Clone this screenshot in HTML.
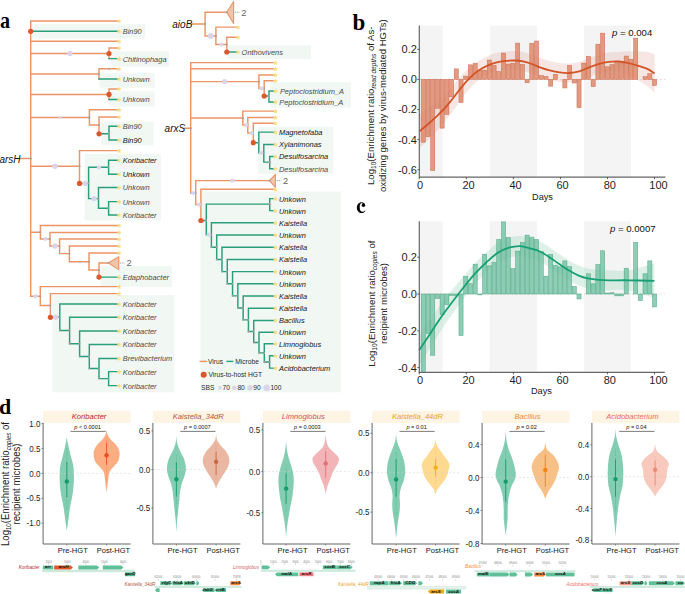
<!DOCTYPE html>
<html><head><meta charset="utf-8"><style>
html,body{margin:0;padding:0;background:#fff;}
body{width:685px;height:594px;overflow:hidden;}
svg{display:block;font-family:"Liberation Sans",sans-serif;}
.tl{font-size:8px;font-style:italic;}
.tn{font-size:10px;font-style:italic;fill:#111;}
.lg{font-size:7.2px;fill:#2a2a2a;}
.ax{font-size:11px;fill:#1e1e1e;}
.ax2{font-size:9.2px;fill:#1a1a1a;}
.pt{font-size:9.6px;fill:#111;}
.yl{font-size:9.6px;fill:#222;}
.sub{font-size:6.6px;}
.pl{font-family:"Liberation Serif",serif;font-weight:bold;font-size:23px;fill:#000;}
.vt{font-size:7.6px;font-style:italic;}
.pv{font-size:5.6px;fill:#111;}
.vy{font-size:8.7px;fill:#1c1c1c;}
.vx{font-size:8.1px;fill:#161616;}
.gn{font-size:4.4px;font-style:italic;font-weight:bold;}
.gt{font-size:2.9px;fill:#888;}
.gl{font-size:4.6px;font-style:italic;}
</style></head><body>
<svg width="685" height="594" viewBox="0 0 685 594">
<defs><path id="st" d="M0.00 -2.30L0.76 -0.80L2.43 -0.54L1.24 0.65L1.50 2.31L0.00 1.55L-1.50 2.31L-1.24 0.65L-2.43 -0.54L-0.76 -0.80Z" fill="#f9de84"/></defs>
<rect x="32" y="24.3" width="113.2" height="14.3" fill="#f1f8f4"/>
<rect x="111" y="51.2" width="58" height="15.4" fill="#f1f8f4"/>
<rect x="99.5" y="73.2" width="55.3" height="14.4" fill="#f1f8f4"/>
<rect x="109.2" y="91.4" width="45.6" height="15.1" fill="#f1f8f4"/>
<rect x="100.9" y="121.7" width="52.6" height="23.6" fill="#f1f8f4"/>
<rect x="84.5" y="154" width="76.5" height="66.4" fill="#f1f8f4"/>
<rect x="100.5" y="266.2" width="71.5" height="20.6" fill="#f1f8f4"/>
<rect x="52.2" y="295" width="122.1" height="97.3" fill="#f1f8f4"/>
<path d="M19.77 158.4H30.7M30.7 20.27V297.03M29.97 21H118.5M29.97 41.2H118.5M29.97 53.5H109M109 47.27V59.33M108.28 48H118.5M29.97 74H99M99 67.98V79.72M98.28 68.7H118.5M29.97 94.4H109M109 88.18V100.22M108.28 88.9H118.5M29.97 117.4H89.4M89.4 109.08V125.72M88.68 109.8H118.5M88.68 125H99M99 116.28V134.53M98.28 117H118.5M29.97 166.3H79.5M79.5 149.88V184.12M78.78 150.6H118.5M29.97 232.2H40.4M40.4 224.68V239.72M39.67 225.4H118.5M39.67 239H50M50 231.68V246.72M49.27 232.4H118.5M49.27 246H59.6M59.6 238.28V254.32M58.88 239H118.5M58.88 253.6H69.4M69.4 245.28V262.43M68.68 246H118.5M68.68 261.7H89M89 252.18V270.73M88.28 252.9H118.5M88.28 270H99M99 262.27V277.83M98.28 263H108.3M29.97 296.3H40.3M40.3 285.88V306.23M39.57 286.6H118.5M39.57 305.5H50.4M50.4 292.88V318.03M49.67 293.6H118.5" stroke="#ec9466" stroke-width="1.45" fill="none"/>
<path d="M29.97 31.3H118.5M108.28 58.6H118.5M98.28 79H118.5M108.28 99.5H118.5M98.28 133.8H109M109 125.58V140.72M108.28 126.3H118.5M108.28 140H118.5M78.78 183.4H88.6M88.6 166.58V199.32M87.88 167.3H108.6M108.6 159.47V175.03M107.88 160.2H118.5M107.88 174.3H118.5M87.88 198.6H98.5M98.5 186.78V208.92M97.78 187.5H118.5M97.78 208.2H108.6M108.6 200.88V215.72M107.88 201.6H118.5M107.88 215H118.5M98.28 277.1H118.5M49.67 317.3H59.8M59.8 303.27V331.22M59.07 304H118.5M59.07 330.49H69.6M69.6 316.57V344.41M68.88 317.3H118.5M68.88 343.69H79.6M79.6 330.17V357.2M78.88 330.9H118.5M78.88 356.48H89.3M89.3 343.67V369.28M88.58 344.4H118.5M88.58 368.55H99M99 357.77V379.33M98.28 358.5H118.5M98.28 378.6H108.6M108.6 370.88V386.33M107.88 371.6H118.5M107.88 385.6H118.5" stroke="#2a9d7a" stroke-width="1.45" fill="none"/>
<path d="M108.3 263L118.8 256.6L118.8 269.6Z" fill="#f3c4a8" stroke="#ec9466" stroke-width="1.1" stroke-linejoin="round"/>
<path d="M120 263H124.8" stroke="#8a8a8a" stroke-width="0.8" stroke-dasharray="1.3 0.9"/>
<text x="126.4" y="266.4" style="font-size:9.4px" fill="#666">2</text>
<circle cx="108.6" cy="378.6" r="0.9" fill="#a3a3a3"/>
<circle cx="99" cy="368.55" r="0.9" fill="#a3a3a3"/>
<circle cx="89.3" cy="356.48" r="0.9" fill="#a3a3a3"/>
<circle cx="79.6" cy="343.69" r="0.9" fill="#a3a3a3"/>
<circle cx="69.6" cy="330.49" r="0.9" fill="#a3a3a3"/>
<circle cx="59.8" cy="317.3" r="0.9" fill="#a3a3a3"/>
<circle cx="50.4" cy="305.5" r="0.9" fill="#a3a3a3"/>
<circle cx="40.3" cy="296.3" r="0.9" fill="#a3a3a3"/>
<circle cx="108.3" cy="263" r="0.9" fill="#a3a3a3"/>
<circle cx="99" cy="270" r="0.9" fill="#a3a3a3"/>
<circle cx="89" cy="261.7" r="0.9" fill="#a3a3a3"/>
<circle cx="69.4" cy="253.6" r="0.9" fill="#a3a3a3"/>
<circle cx="59.6" cy="246" r="0.9" fill="#a3a3a3"/>
<circle cx="50" cy="239" r="0.9" fill="#a3a3a3"/>
<circle cx="40.4" cy="232.2" r="0.9" fill="#a3a3a3"/>
<circle cx="108.6" cy="208.2" r="0.9" fill="#a3a3a3"/>
<circle cx="98.5" cy="198.6" r="0.9" fill="#a3a3a3"/>
<circle cx="108.6" cy="167.3" r="0.9" fill="#a3a3a3"/>
<circle cx="88.6" cy="183.4" r="0.9" fill="#a3a3a3"/>
<circle cx="79.5" cy="166.3" r="0.9" fill="#a3a3a3"/>
<circle cx="109" cy="133.8" r="0.9" fill="#a3a3a3"/>
<circle cx="99" cy="125" r="0.9" fill="#a3a3a3"/>
<circle cx="89.4" cy="117.4" r="0.9" fill="#a3a3a3"/>
<circle cx="109" cy="94.4" r="0.9" fill="#a3a3a3"/>
<circle cx="99" cy="74" r="0.9" fill="#a3a3a3"/>
<circle cx="109" cy="53.5" r="0.9" fill="#a3a3a3"/>
<circle cx="30.7" cy="158.4" r="0.9" fill="#a3a3a3"/>
<circle cx="30.7" cy="158.4" r="0.9" fill="#a3a3a3"/>
<circle cx="30.7" cy="31.3" r="2.6" fill="#d9582e"/>
<circle cx="70" cy="53.5" r="2.7" fill="#dcd5ea"/>
<circle cx="109" cy="53.5" r="2.6" fill="#d9582e"/>
<circle cx="99" cy="74" r="0.9" fill="#a3a3a3"/>
<circle cx="109" cy="68.7" r="0.9" fill="#a3a3a3"/>
<circle cx="109" cy="94.4" r="2.6" fill="#d9582e"/>
<circle cx="60" cy="117.4" r="1.6" fill="#dcd5ea"/>
<circle cx="89.4" cy="117.4" r="0.9" fill="#a3a3a3"/>
<circle cx="99" cy="125" r="0.9" fill="#a3a3a3"/>
<circle cx="99" cy="133.8" r="2.6" fill="#d9582e"/>
<circle cx="55" cy="166.3" r="2.7" fill="#dcd5ea"/>
<circle cx="79.5" cy="166.3" r="0.9" fill="#a3a3a3"/>
<circle cx="85" cy="183.4" r="2.7" fill="#dcd5ea"/>
<circle cx="99" cy="167.3" r="2.1" fill="#dcd5ea"/>
<circle cx="94" cy="198.6" r="2.7" fill="#dcd5ea"/>
<circle cx="79.5" cy="183.4" r="2.6" fill="#d9582e"/>
<circle cx="45.5" cy="239" r="2.1" fill="#dcd5ea"/>
<circle cx="40.4" cy="232.2" r="0.9" fill="#a3a3a3"/>
<circle cx="55" cy="246" r="2.7" fill="#dcd5ea"/>
<circle cx="69.4" cy="253.6" r="0.9" fill="#a3a3a3"/>
<circle cx="80" cy="261.7" r="0.9" fill="#a3a3a3"/>
<circle cx="89" cy="261.7" r="0.9" fill="#a3a3a3"/>
<circle cx="99" cy="270" r="0.9" fill="#a3a3a3"/>
<circle cx="99" cy="277.1" r="2.6" fill="#d9582e"/>
<circle cx="35.5" cy="296.3" r="2.1" fill="#dcd5ea"/>
<circle cx="40.3" cy="296.3" r="0.9" fill="#a3a3a3"/>
<circle cx="50.4" cy="305.5" r="0.9" fill="#a3a3a3"/>
<circle cx="55.6" cy="317.3" r="2.7" fill="#dcd5ea"/>
<circle cx="59.8" cy="330.49" r="0.9" fill="#a3a3a3"/>
<circle cx="69.6" cy="343.69" r="0.9" fill="#a3a3a3"/>
<circle cx="79.6" cy="356.48" r="0.9" fill="#a3a3a3"/>
<circle cx="89.3" cy="368.55" r="0.9" fill="#a3a3a3"/>
<circle cx="99" cy="378.6" r="0.9" fill="#a3a3a3"/>
<circle cx="50.4" cy="317.3" r="2.6" fill="#d9582e"/>
<path transform="translate(119.1 21)" d="M0 -2.3L0.76 -0.8L2.43 -0.54L1.24 0.65L1.5 2.31L0 1.55L-1.5 2.31L-1.24 0.65L-2.43 -0.54L-0.76 -0.8Z" fill="#f9de84"/>
<path transform="translate(119.1 31.3)" d="M0 -2.3L0.76 -0.8L2.43 -0.54L1.24 0.65L1.5 2.31L0 1.55L-1.5 2.31L-1.24 0.65L-2.43 -0.54L-0.76 -0.8Z" fill="#f9de84"/>
<path transform="translate(119.1 41.2)" d="M0 -2.3L0.76 -0.8L2.43 -0.54L1.24 0.65L1.5 2.31L0 1.55L-1.5 2.31L-1.24 0.65L-2.43 -0.54L-0.76 -0.8Z" fill="#f9de84"/>
<path transform="translate(119.1 48)" d="M0 -2.3L0.76 -0.8L2.43 -0.54L1.24 0.65L1.5 2.31L0 1.55L-1.5 2.31L-1.24 0.65L-2.43 -0.54L-0.76 -0.8Z" fill="#f9de84"/>
<path transform="translate(119.1 58.6)" d="M0 -2.3L0.76 -0.8L2.43 -0.54L1.24 0.65L1.5 2.31L0 1.55L-1.5 2.31L-1.24 0.65L-2.43 -0.54L-0.76 -0.8Z" fill="#f9de84"/>
<path transform="translate(119.1 68.7)" d="M0 -2.3L0.76 -0.8L2.43 -0.54L1.24 0.65L1.5 2.31L0 1.55L-1.5 2.31L-1.24 0.65L-2.43 -0.54L-0.76 -0.8Z" fill="#f9de84"/>
<path transform="translate(119.1 79)" d="M0 -2.3L0.76 -0.8L2.43 -0.54L1.24 0.65L1.5 2.31L0 1.55L-1.5 2.31L-1.24 0.65L-2.43 -0.54L-0.76 -0.8Z" fill="#f9de84"/>
<path transform="translate(119.1 88.9)" d="M0 -2.3L0.76 -0.8L2.43 -0.54L1.24 0.65L1.5 2.31L0 1.55L-1.5 2.31L-1.24 0.65L-2.43 -0.54L-0.76 -0.8Z" fill="#f9de84"/>
<path transform="translate(119.1 99.5)" d="M0 -2.3L0.76 -0.8L2.43 -0.54L1.24 0.65L1.5 2.31L0 1.55L-1.5 2.31L-1.24 0.65L-2.43 -0.54L-0.76 -0.8Z" fill="#f9de84"/>
<path transform="translate(119.1 109.8)" d="M0 -2.3L0.76 -0.8L2.43 -0.54L1.24 0.65L1.5 2.31L0 1.55L-1.5 2.31L-1.24 0.65L-2.43 -0.54L-0.76 -0.8Z" fill="#f9de84"/>
<path transform="translate(119.1 117)" d="M0 -2.3L0.76 -0.8L2.43 -0.54L1.24 0.65L1.5 2.31L0 1.55L-1.5 2.31L-1.24 0.65L-2.43 -0.54L-0.76 -0.8Z" fill="#f9de84"/>
<path transform="translate(119.1 126.3)" d="M0 -2.3L0.76 -0.8L2.43 -0.54L1.24 0.65L1.5 2.31L0 1.55L-1.5 2.31L-1.24 0.65L-2.43 -0.54L-0.76 -0.8Z" fill="#f9de84"/>
<path transform="translate(119.1 140)" d="M0 -2.3L0.76 -0.8L2.43 -0.54L1.24 0.65L1.5 2.31L0 1.55L-1.5 2.31L-1.24 0.65L-2.43 -0.54L-0.76 -0.8Z" fill="#f9de84"/>
<path transform="translate(119.1 150.6)" d="M0 -2.3L0.76 -0.8L2.43 -0.54L1.24 0.65L1.5 2.31L0 1.55L-1.5 2.31L-1.24 0.65L-2.43 -0.54L-0.76 -0.8Z" fill="#f9de84"/>
<path transform="translate(119.1 160.2)" d="M0 -2.3L0.76 -0.8L2.43 -0.54L1.24 0.65L1.5 2.31L0 1.55L-1.5 2.31L-1.24 0.65L-2.43 -0.54L-0.76 -0.8Z" fill="#f9de84"/>
<path transform="translate(119.1 174.3)" d="M0 -2.3L0.76 -0.8L2.43 -0.54L1.24 0.65L1.5 2.31L0 1.55L-1.5 2.31L-1.24 0.65L-2.43 -0.54L-0.76 -0.8Z" fill="#f9de84"/>
<path transform="translate(119.1 187.5)" d="M0 -2.3L0.76 -0.8L2.43 -0.54L1.24 0.65L1.5 2.31L0 1.55L-1.5 2.31L-1.24 0.65L-2.43 -0.54L-0.76 -0.8Z" fill="#f9de84"/>
<path transform="translate(119.1 201.6)" d="M0 -2.3L0.76 -0.8L2.43 -0.54L1.24 0.65L1.5 2.31L0 1.55L-1.5 2.31L-1.24 0.65L-2.43 -0.54L-0.76 -0.8Z" fill="#f9de84"/>
<path transform="translate(119.1 215)" d="M0 -2.3L0.76 -0.8L2.43 -0.54L1.24 0.65L1.5 2.31L0 1.55L-1.5 2.31L-1.24 0.65L-2.43 -0.54L-0.76 -0.8Z" fill="#f9de84"/>
<path transform="translate(119.1 225.4)" d="M0 -2.3L0.76 -0.8L2.43 -0.54L1.24 0.65L1.5 2.31L0 1.55L-1.5 2.31L-1.24 0.65L-2.43 -0.54L-0.76 -0.8Z" fill="#f9de84"/>
<path transform="translate(119.1 232.4)" d="M0 -2.3L0.76 -0.8L2.43 -0.54L1.24 0.65L1.5 2.31L0 1.55L-1.5 2.31L-1.24 0.65L-2.43 -0.54L-0.76 -0.8Z" fill="#f9de84"/>
<path transform="translate(119.1 239)" d="M0 -2.3L0.76 -0.8L2.43 -0.54L1.24 0.65L1.5 2.31L0 1.55L-1.5 2.31L-1.24 0.65L-2.43 -0.54L-0.76 -0.8Z" fill="#f9de84"/>
<path transform="translate(119.1 246)" d="M0 -2.3L0.76 -0.8L2.43 -0.54L1.24 0.65L1.5 2.31L0 1.55L-1.5 2.31L-1.24 0.65L-2.43 -0.54L-0.76 -0.8Z" fill="#f9de84"/>
<path transform="translate(119.1 252.9)" d="M0 -2.3L0.76 -0.8L2.43 -0.54L1.24 0.65L1.5 2.31L0 1.55L-1.5 2.31L-1.24 0.65L-2.43 -0.54L-0.76 -0.8Z" fill="#f9de84"/>
<path transform="translate(119.1 277.1)" d="M0 -2.3L0.76 -0.8L2.43 -0.54L1.24 0.65L1.5 2.31L0 1.55L-1.5 2.31L-1.24 0.65L-2.43 -0.54L-0.76 -0.8Z" fill="#f9de84"/>
<path transform="translate(119.1 286.6)" d="M0 -2.3L0.76 -0.8L2.43 -0.54L1.24 0.65L1.5 2.31L0 1.55L-1.5 2.31L-1.24 0.65L-2.43 -0.54L-0.76 -0.8Z" fill="#f9de84"/>
<path transform="translate(119.1 293.6)" d="M0 -2.3L0.76 -0.8L2.43 -0.54L1.24 0.65L1.5 2.31L0 1.55L-1.5 2.31L-1.24 0.65L-2.43 -0.54L-0.76 -0.8Z" fill="#f9de84"/>
<path transform="translate(119.1 304)" d="M0 -2.3L0.76 -0.8L2.43 -0.54L1.24 0.65L1.5 2.31L0 1.55L-1.5 2.31L-1.24 0.65L-2.43 -0.54L-0.76 -0.8Z" fill="#f9de84"/>
<path transform="translate(119.1 317.3)" d="M0 -2.3L0.76 -0.8L2.43 -0.54L1.24 0.65L1.5 2.31L0 1.55L-1.5 2.31L-1.24 0.65L-2.43 -0.54L-0.76 -0.8Z" fill="#f9de84"/>
<path transform="translate(119.1 330.9)" d="M0 -2.3L0.76 -0.8L2.43 -0.54L1.24 0.65L1.5 2.31L0 1.55L-1.5 2.31L-1.24 0.65L-2.43 -0.54L-0.76 -0.8Z" fill="#f9de84"/>
<path transform="translate(119.1 344.4)" d="M0 -2.3L0.76 -0.8L2.43 -0.54L1.24 0.65L1.5 2.31L0 1.55L-1.5 2.31L-1.24 0.65L-2.43 -0.54L-0.76 -0.8Z" fill="#f9de84"/>
<path transform="translate(119.1 358.5)" d="M0 -2.3L0.76 -0.8L2.43 -0.54L1.24 0.65L1.5 2.31L0 1.55L-1.5 2.31L-1.24 0.65L-2.43 -0.54L-0.76 -0.8Z" fill="#f9de84"/>
<path transform="translate(119.1 371.6)" d="M0 -2.3L0.76 -0.8L2.43 -0.54L1.24 0.65L1.5 2.31L0 1.55L-1.5 2.31L-1.24 0.65L-2.43 -0.54L-0.76 -0.8Z" fill="#f9de84"/>
<path transform="translate(119.1 385.6)" d="M0 -2.3L0.76 -0.8L2.43 -0.54L1.24 0.65L1.5 2.31L0 1.55L-1.5 2.31L-1.24 0.65L-2.43 -0.54L-0.76 -0.8Z" fill="#f9de84"/>
<text transform="translate(122.7 34.2) scale(0.93 1)" class="tl" fill="#484848">Bin90</text>
<text transform="translate(122.7 61.5) scale(0.93 1)" class="tl" fill="#484848">Chitinophaga</text>
<text transform="translate(122.7 81.9) scale(0.93 1)" class="tl" fill="#484848">Unkown</text>
<text transform="translate(122.7 102.4) scale(0.93 1)" class="tl" fill="#484848">Unkown</text>
<text transform="translate(122.7 129.2) scale(0.93 1)" class="tl" fill="#484848">Bin90</text>
<text transform="translate(122.7 142.9) scale(0.93 1)" class="tl" fill="#141414">Bin90</text>
<text transform="translate(122.7 163.1) scale(0.93 1)" class="tl" fill="#141414">Koribacter</text>
<text transform="translate(122.7 177.2) scale(0.93 1)" class="tl" fill="#141414">Unkown</text>
<text transform="translate(122.7 190.4) scale(0.93 1)" class="tl" fill="#484848">Unkown</text>
<text transform="translate(122.7 204.5) scale(0.93 1)" class="tl" fill="#484848">Unkown</text>
<text transform="translate(122.7 217.9) scale(0.93 1)" class="tl" fill="#484848">Koribacter</text>
<text transform="translate(122.7 280) scale(0.93 1)" class="tl" fill="#484848">Edaphobacter</text>
<text transform="translate(122.7 306.9) scale(0.93 1)" class="tl" fill="#484848">Koribacter</text>
<text transform="translate(122.7 320.2) scale(0.93 1)" class="tl" fill="#484848">Koribacter</text>
<text transform="translate(122.7 333.8) scale(0.93 1)" class="tl" fill="#484848">Koribacter</text>
<text transform="translate(122.7 347.3) scale(0.93 1)" class="tl" fill="#484848">Koribacter</text>
<text transform="translate(122.7 361.4) scale(0.93 1)" class="tl" fill="#484848">Brevibacterium</text>
<text transform="translate(122.7 374.5) scale(0.93 1)" class="tl" fill="#484848">Koribacter</text>
<text transform="translate(122.7 388.5) scale(0.93 1)" class="tl" fill="#484848">Koribacter</text>
<text x="-0.6" y="162.5" class="tn">arsH</text>
<rect x="227.1" y="45.2" width="83.9" height="13.9" fill="#f1f8f4"/>
<path d="M191.08 24H205.1M205.1 11.58V36.62M204.38 12.3H226.8M204.38 35.9H215.9M215.9 26.38V45.12M215.18 27.1H237.4M215.18 44.4H226.8M226.8 36.48V52.73M226.08 37.2H237.4" stroke="#ec9466" stroke-width="1.45" fill="none"/>
<path d="M226.08 52H237.4" stroke="#2a9d7a" stroke-width="1.45" fill="none"/>
<path d="M226.8 12.3L233.6 1.5L233.6 23.4Z" fill="#f3c4a8" stroke="#ec9466" stroke-width="1.1" stroke-linejoin="round"/>
<path d="M234.8 12.3H239.6" stroke="#8a8a8a" stroke-width="0.8" stroke-dasharray="1.3 0.9"/>
<text x="241.2" y="15.7" style="font-size:9.4px" fill="#666">2</text>
<circle cx="226.8" cy="44.4" r="0.9" fill="#a3a3a3"/>
<circle cx="215.9" cy="35.9" r="0.9" fill="#a3a3a3"/>
<circle cx="226.8" cy="12.3" r="0.9" fill="#a3a3a3"/>
<circle cx="205.1" cy="24" r="0.9" fill="#a3a3a3"/>
<circle cx="205.1" cy="24" r="0.9" fill="#a3a3a3"/>
<circle cx="226.8" cy="12.3" r="0.9" fill="#a3a3a3"/>
<circle cx="210.7" cy="35.9" r="2.9" fill="#dcd5ea"/>
<circle cx="215.9" cy="35.9" r="0.9" fill="#a3a3a3"/>
<circle cx="221.3" cy="44.4" r="2" fill="#dcd5ea"/>
<circle cx="226.8" cy="44.4" r="0.9" fill="#a3a3a3"/>
<circle cx="226.8" cy="52" r="2.6" fill="#d9582e"/>
<path transform="translate(238 27.1)" d="M0 -2.3L0.76 -0.8L2.43 -0.54L1.24 0.65L1.5 2.31L0 1.55L-1.5 2.31L-1.24 0.65L-2.43 -0.54L-0.76 -0.8Z" fill="#f9de84"/>
<path transform="translate(238 37.2)" d="M0 -2.3L0.76 -0.8L2.43 -0.54L1.24 0.65L1.5 2.31L0 1.55L-1.5 2.31L-1.24 0.65L-2.43 -0.54L-0.76 -0.8Z" fill="#f9de84"/>
<path transform="translate(238 52)" d="M0 -2.3L0.76 -0.8L2.43 -0.54L1.24 0.65L1.5 2.31L0 1.55L-1.5 2.31L-1.24 0.65L-2.43 -0.54L-0.76 -0.8Z" fill="#f9de84"/>
<text transform="translate(241.6 54.9) scale(0.93 1)" class="tl" fill="#484848">Onthovivens</text>
<text x="172.3" y="27.6" class="tn">aioB</text>
<rect x="270.4" y="82.2" width="80.5" height="25.4" fill="#f1f8f4"/>
<rect x="258" y="126.7" width="75.3" height="47.2" fill="#f1f8f4"/>
<rect x="200.4" y="191.6" width="140.6" height="200.7" fill="#f1f8f4"/>
<path d="M183.58 128.3H190.7M190.7 61.88V193.72M189.97 62.6H274.8M189.97 68.7H274.8M189.97 81.6H258.9M258.9 74.28V89.12M258.17 75H274.8M258.17 88.4H264.2M264.2 80.08V96.72M263.47 80.8H274.8M189.97 117.9H242.8M242.8 110.38V125.72M242.08 111.1H274.8M242.08 125H247.8M247.8 116.68V133.72M247.08 117.4H274.8M247.08 133H253.3M253.3 122.48V143.42M252.58 123.2H274.8M189.97 193H195.7M195.7 179.88V205.32M194.97 180.6H269.5M194.97 204.6H200.9M200.9 188.47V221.22M200.18 189.2H274.8" stroke="#ec9466" stroke-width="1.45" fill="none"/>
<path d="M263.47 96H269M269 90.18V102.62M268.27 90.9H274.8M268.27 101.9H274.8M252.58 142.7H258.8M258.8 131.38V153.53M258.07 132.1H274.8M258.07 152.8H263.8M263.8 143.68V162.82M263.07 144.4H274.8M263.07 162.1H269.7M269.7 155.78V169.53M268.97 156.5H274.8M268.97 168.8H274.8M200.18 220.5H206.3M206.3 203.38V235.53M205.58 204.1H269.7M269.7 197.88V211.32M268.97 198.6H274.8M268.97 210.6H274.8M205.58 234.8H211.4M211.4 221.97V247.9M210.68 222.7H274.8M210.68 247.18H216.69M216.69 234.18V260.18M215.97 234.9H274.8M215.97 259.46H221.98M221.98 246.58V272.34M221.26 247.3H274.8M221.26 271.62H227.27M227.27 258.77V284.46M226.55 259.5H274.8M226.55 283.73H232.56M232.56 270.88V296.59M231.84 271.6H274.8M231.84 295.86H237.85M237.85 283.07V308.65M237.12 283.8H274.8M237.12 307.92H243.14M243.14 295.27V320.57M242.42 296H274.8M242.42 319.85H248.43M248.43 307.47V332.22M247.71 308.2H274.8M247.71 331.49H253.72M253.72 319.67V343.31M253 320.4H274.8M253 342.59H259.01M259.01 331.57V353.6M258.28 332.3H274.8M258.28 352.88H264.3M264.3 343.07V362.68M263.57 343.8H274.8M263.57 361.95H269.59M269.59 355.07V368.83M268.87 355.8H274.8M268.87 368.1H274.8" stroke="#2a9d7a" stroke-width="1.45" fill="none"/>
<path d="M269.5 180.6L275.4 174.3L275.4 187.3Z" fill="#f3c4a8" stroke="#ec9466" stroke-width="1.1" stroke-linejoin="round"/>
<path d="M276.6 180.6H281.4" stroke="#8a8a8a" stroke-width="0.8" stroke-dasharray="1.3 0.9"/>
<text x="283" y="184" style="font-size:9.4px" fill="#666">2</text>
<circle cx="269.59" cy="361.95" r="0.9" fill="#a3a3a3"/>
<circle cx="264.3" cy="352.88" r="0.9" fill="#a3a3a3"/>
<circle cx="259.01" cy="342.59" r="0.9" fill="#a3a3a3"/>
<circle cx="253.72" cy="331.49" r="0.9" fill="#a3a3a3"/>
<circle cx="248.43" cy="319.85" r="0.9" fill="#a3a3a3"/>
<circle cx="243.14" cy="307.92" r="0.9" fill="#a3a3a3"/>
<circle cx="237.85" cy="295.86" r="0.9" fill="#a3a3a3"/>
<circle cx="232.56" cy="283.73" r="0.9" fill="#a3a3a3"/>
<circle cx="227.27" cy="271.62" r="0.9" fill="#a3a3a3"/>
<circle cx="221.98" cy="259.46" r="0.9" fill="#a3a3a3"/>
<circle cx="216.69" cy="247.18" r="0.9" fill="#a3a3a3"/>
<circle cx="211.4" cy="234.8" r="0.9" fill="#a3a3a3"/>
<circle cx="269.7" cy="204.1" r="0.9" fill="#a3a3a3"/>
<circle cx="206.3" cy="220.5" r="0.9" fill="#a3a3a3"/>
<circle cx="200.9" cy="204.6" r="0.9" fill="#a3a3a3"/>
<circle cx="269.5" cy="180.6" r="0.9" fill="#a3a3a3"/>
<circle cx="195.7" cy="193" r="0.9" fill="#a3a3a3"/>
<circle cx="269.7" cy="162.1" r="0.9" fill="#a3a3a3"/>
<circle cx="263.8" cy="152.8" r="0.9" fill="#a3a3a3"/>
<circle cx="258.8" cy="142.7" r="0.9" fill="#a3a3a3"/>
<circle cx="253.3" cy="133" r="0.9" fill="#a3a3a3"/>
<circle cx="247.8" cy="125" r="0.9" fill="#a3a3a3"/>
<circle cx="242.8" cy="117.9" r="0.9" fill="#a3a3a3"/>
<circle cx="269" cy="96" r="0.9" fill="#a3a3a3"/>
<circle cx="264.2" cy="88.4" r="0.9" fill="#a3a3a3"/>
<circle cx="258.9" cy="81.6" r="0.9" fill="#a3a3a3"/>
<circle cx="190.7" cy="128.3" r="0.9" fill="#a3a3a3"/>
<circle cx="190.7" cy="128.3" r="0.9" fill="#a3a3a3"/>
<circle cx="224.6" cy="81.6" r="2.7" fill="#dcd5ea"/>
<circle cx="258.9" cy="81.6" r="0.9" fill="#a3a3a3"/>
<circle cx="261.5" cy="88.4" r="2.1" fill="#dcd5ea"/>
<circle cx="264.2" cy="96" r="2.6" fill="#d9582e"/>
<circle cx="269" cy="96" r="0.9" fill="#a3a3a3"/>
<circle cx="242.8" cy="117.9" r="0.9" fill="#a3a3a3"/>
<circle cx="246.3" cy="125" r="2.1" fill="#dcd5ea"/>
<circle cx="251.6" cy="133" r="2.1" fill="#dcd5ea"/>
<circle cx="261" cy="152.8" r="2.1" fill="#dcd5ea"/>
<circle cx="269.7" cy="162.1" r="0.9" fill="#a3a3a3"/>
<circle cx="253.3" cy="142.7" r="2.6" fill="#d9582e"/>
<circle cx="193.2" cy="193" r="2.1" fill="#dcd5ea"/>
<circle cx="232.5" cy="180.6" r="2.2" fill="#dcd5ea"/>
<circle cx="269.5" cy="180.6" r="0.9" fill="#a3a3a3"/>
<circle cx="199" cy="204.6" r="2.1" fill="#dcd5ea"/>
<circle cx="269.7" cy="204.1" r="0.9" fill="#a3a3a3"/>
<circle cx="208.7" cy="234.8" r="2.2" fill="#dcd5ea"/>
<circle cx="211.4" cy="247.18" r="0.9" fill="#a3a3a3"/>
<circle cx="216.69" cy="259.46" r="0.9" fill="#a3a3a3"/>
<circle cx="221.98" cy="271.62" r="0.9" fill="#a3a3a3"/>
<circle cx="227.27" cy="283.73" r="0.9" fill="#a3a3a3"/>
<circle cx="232.56" cy="295.86" r="0.9" fill="#a3a3a3"/>
<circle cx="237.85" cy="307.92" r="0.9" fill="#a3a3a3"/>
<circle cx="243.14" cy="319.85" r="0.9" fill="#a3a3a3"/>
<circle cx="248.43" cy="331.49" r="0.9" fill="#a3a3a3"/>
<circle cx="253.72" cy="342.59" r="0.9" fill="#a3a3a3"/>
<circle cx="259.01" cy="352.88" r="0.9" fill="#a3a3a3"/>
<circle cx="264.3" cy="361.95" r="0.9" fill="#a3a3a3"/>
<circle cx="200.9" cy="220.5" r="2.6" fill="#d9582e"/>
<circle cx="206.3" cy="220.5" r="0.9" fill="#a3a3a3"/>
<path transform="translate(275.4 62.6)" d="M0 -2.3L0.76 -0.8L2.43 -0.54L1.24 0.65L1.5 2.31L0 1.55L-1.5 2.31L-1.24 0.65L-2.43 -0.54L-0.76 -0.8Z" fill="#f9de84"/>
<path transform="translate(275.4 68.7)" d="M0 -2.3L0.76 -0.8L2.43 -0.54L1.24 0.65L1.5 2.31L0 1.55L-1.5 2.31L-1.24 0.65L-2.43 -0.54L-0.76 -0.8Z" fill="#f9de84"/>
<path transform="translate(275.4 75)" d="M0 -2.3L0.76 -0.8L2.43 -0.54L1.24 0.65L1.5 2.31L0 1.55L-1.5 2.31L-1.24 0.65L-2.43 -0.54L-0.76 -0.8Z" fill="#f9de84"/>
<path transform="translate(275.4 80.8)" d="M0 -2.3L0.76 -0.8L2.43 -0.54L1.24 0.65L1.5 2.31L0 1.55L-1.5 2.31L-1.24 0.65L-2.43 -0.54L-0.76 -0.8Z" fill="#f9de84"/>
<path transform="translate(275.4 90.9)" d="M0 -2.3L0.76 -0.8L2.43 -0.54L1.24 0.65L1.5 2.31L0 1.55L-1.5 2.31L-1.24 0.65L-2.43 -0.54L-0.76 -0.8Z" fill="#f9de84"/>
<path transform="translate(275.4 101.9)" d="M0 -2.3L0.76 -0.8L2.43 -0.54L1.24 0.65L1.5 2.31L0 1.55L-1.5 2.31L-1.24 0.65L-2.43 -0.54L-0.76 -0.8Z" fill="#f9de84"/>
<path transform="translate(275.4 111.1)" d="M0 -2.3L0.76 -0.8L2.43 -0.54L1.24 0.65L1.5 2.31L0 1.55L-1.5 2.31L-1.24 0.65L-2.43 -0.54L-0.76 -0.8Z" fill="#f9de84"/>
<path transform="translate(275.4 117.4)" d="M0 -2.3L0.76 -0.8L2.43 -0.54L1.24 0.65L1.5 2.31L0 1.55L-1.5 2.31L-1.24 0.65L-2.43 -0.54L-0.76 -0.8Z" fill="#f9de84"/>
<path transform="translate(275.4 123.2)" d="M0 -2.3L0.76 -0.8L2.43 -0.54L1.24 0.65L1.5 2.31L0 1.55L-1.5 2.31L-1.24 0.65L-2.43 -0.54L-0.76 -0.8Z" fill="#f9de84"/>
<path transform="translate(275.4 132.1)" d="M0 -2.3L0.76 -0.8L2.43 -0.54L1.24 0.65L1.5 2.31L0 1.55L-1.5 2.31L-1.24 0.65L-2.43 -0.54L-0.76 -0.8Z" fill="#f9de84"/>
<path transform="translate(275.4 144.4)" d="M0 -2.3L0.76 -0.8L2.43 -0.54L1.24 0.65L1.5 2.31L0 1.55L-1.5 2.31L-1.24 0.65L-2.43 -0.54L-0.76 -0.8Z" fill="#f9de84"/>
<path transform="translate(275.4 156.5)" d="M0 -2.3L0.76 -0.8L2.43 -0.54L1.24 0.65L1.5 2.31L0 1.55L-1.5 2.31L-1.24 0.65L-2.43 -0.54L-0.76 -0.8Z" fill="#f9de84"/>
<path transform="translate(275.4 168.8)" d="M0 -2.3L0.76 -0.8L2.43 -0.54L1.24 0.65L1.5 2.31L0 1.55L-1.5 2.31L-1.24 0.65L-2.43 -0.54L-0.76 -0.8Z" fill="#f9de84"/>
<path transform="translate(275.4 189.2)" d="M0 -2.3L0.76 -0.8L2.43 -0.54L1.24 0.65L1.5 2.31L0 1.55L-1.5 2.31L-1.24 0.65L-2.43 -0.54L-0.76 -0.8Z" fill="#f9de84"/>
<path transform="translate(275.4 198.6)" d="M0 -2.3L0.76 -0.8L2.43 -0.54L1.24 0.65L1.5 2.31L0 1.55L-1.5 2.31L-1.24 0.65L-2.43 -0.54L-0.76 -0.8Z" fill="#f9de84"/>
<path transform="translate(275.4 210.6)" d="M0 -2.3L0.76 -0.8L2.43 -0.54L1.24 0.65L1.5 2.31L0 1.55L-1.5 2.31L-1.24 0.65L-2.43 -0.54L-0.76 -0.8Z" fill="#f9de84"/>
<path transform="translate(275.4 222.7)" d="M0 -2.3L0.76 -0.8L2.43 -0.54L1.24 0.65L1.5 2.31L0 1.55L-1.5 2.31L-1.24 0.65L-2.43 -0.54L-0.76 -0.8Z" fill="#f9de84"/>
<path transform="translate(275.4 234.9)" d="M0 -2.3L0.76 -0.8L2.43 -0.54L1.24 0.65L1.5 2.31L0 1.55L-1.5 2.31L-1.24 0.65L-2.43 -0.54L-0.76 -0.8Z" fill="#f9de84"/>
<path transform="translate(275.4 247.3)" d="M0 -2.3L0.76 -0.8L2.43 -0.54L1.24 0.65L1.5 2.31L0 1.55L-1.5 2.31L-1.24 0.65L-2.43 -0.54L-0.76 -0.8Z" fill="#f9de84"/>
<path transform="translate(275.4 259.5)" d="M0 -2.3L0.76 -0.8L2.43 -0.54L1.24 0.65L1.5 2.31L0 1.55L-1.5 2.31L-1.24 0.65L-2.43 -0.54L-0.76 -0.8Z" fill="#f9de84"/>
<path transform="translate(275.4 271.6)" d="M0 -2.3L0.76 -0.8L2.43 -0.54L1.24 0.65L1.5 2.31L0 1.55L-1.5 2.31L-1.24 0.65L-2.43 -0.54L-0.76 -0.8Z" fill="#f9de84"/>
<path transform="translate(275.4 283.8)" d="M0 -2.3L0.76 -0.8L2.43 -0.54L1.24 0.65L1.5 2.31L0 1.55L-1.5 2.31L-1.24 0.65L-2.43 -0.54L-0.76 -0.8Z" fill="#f9de84"/>
<path transform="translate(275.4 296)" d="M0 -2.3L0.76 -0.8L2.43 -0.54L1.24 0.65L1.5 2.31L0 1.55L-1.5 2.31L-1.24 0.65L-2.43 -0.54L-0.76 -0.8Z" fill="#f9de84"/>
<path transform="translate(275.4 308.2)" d="M0 -2.3L0.76 -0.8L2.43 -0.54L1.24 0.65L1.5 2.31L0 1.55L-1.5 2.31L-1.24 0.65L-2.43 -0.54L-0.76 -0.8Z" fill="#f9de84"/>
<path transform="translate(275.4 320.4)" d="M0 -2.3L0.76 -0.8L2.43 -0.54L1.24 0.65L1.5 2.31L0 1.55L-1.5 2.31L-1.24 0.65L-2.43 -0.54L-0.76 -0.8Z" fill="#f9de84"/>
<path transform="translate(275.4 332.3)" d="M0 -2.3L0.76 -0.8L2.43 -0.54L1.24 0.65L1.5 2.31L0 1.55L-1.5 2.31L-1.24 0.65L-2.43 -0.54L-0.76 -0.8Z" fill="#f9de84"/>
<path transform="translate(275.4 343.8)" d="M0 -2.3L0.76 -0.8L2.43 -0.54L1.24 0.65L1.5 2.31L0 1.55L-1.5 2.31L-1.24 0.65L-2.43 -0.54L-0.76 -0.8Z" fill="#f9de84"/>
<path transform="translate(275.4 355.8)" d="M0 -2.3L0.76 -0.8L2.43 -0.54L1.24 0.65L1.5 2.31L0 1.55L-1.5 2.31L-1.24 0.65L-2.43 -0.54L-0.76 -0.8Z" fill="#f9de84"/>
<path transform="translate(275.4 368.1)" d="M0 -2.3L0.76 -0.8L2.43 -0.54L1.24 0.65L1.5 2.31L0 1.55L-1.5 2.31L-1.24 0.65L-2.43 -0.54L-0.76 -0.8Z" fill="#f9de84"/>
<text transform="translate(279.9 93.8) scale(0.93 1)" class="tl" fill="#484848">Peptoclostridium_A</text>
<text transform="translate(279.2 104.8) scale(0.93 1)" class="tl" fill="#484848">Peptoclostridium_A</text>
<text transform="translate(279 135) scale(0.93 1)" class="tl" fill="#141414">Magnetofaba</text>
<text transform="translate(279 147.3) scale(0.93 1)" class="tl" fill="#141414">Xylanimonas</text>
<text transform="translate(279 159.4) scale(0.93 1)" class="tl" fill="#141414">Desulfosarcina</text>
<text transform="translate(279 171.7) scale(0.93 1)" class="tl" fill="#484848">Desulfosarcina</text>
<text transform="translate(279 201.5) scale(0.93 1)" class="tl" fill="#141414">Unkown</text>
<text transform="translate(279 213.5) scale(0.93 1)" class="tl" fill="#141414">Unkown</text>
<text transform="translate(279 225.6) scale(0.93 1)" class="tl" fill="#141414">Kaistella</text>
<text transform="translate(279 237.8) scale(0.93 1)" class="tl" fill="#141414">Unkown</text>
<text transform="translate(279 250.2) scale(0.93 1)" class="tl" fill="#141414">Kaistella</text>
<text transform="translate(279 262.4) scale(0.93 1)" class="tl" fill="#141414">Kaistella</text>
<text transform="translate(279 274.5) scale(0.93 1)" class="tl" fill="#141414">Unkown</text>
<text transform="translate(279 286.7) scale(0.93 1)" class="tl" fill="#141414">Unkown</text>
<text transform="translate(279 298.9) scale(0.93 1)" class="tl" fill="#141414">Kaistella</text>
<text transform="translate(279 311.1) scale(0.93 1)" class="tl" fill="#141414">Kaistella</text>
<text transform="translate(279 323.3) scale(0.93 1)" class="tl" fill="#141414">Bacillus</text>
<text transform="translate(279 335.2) scale(0.93 1)" class="tl" fill="#141414">Unkown</text>
<text transform="translate(279 346.7) scale(0.93 1)" class="tl" fill="#141414">Limnoglobus</text>
<text transform="translate(279 358.7) scale(0.93 1)" class="tl" fill="#141414">Unkown</text>
<text transform="translate(279 371) scale(0.93 1)" class="tl" fill="#141414">Acidobacterium</text>
<text x="164.6" y="131.6" class="tn">arxS</text>
<path d="M199.6 361.4H207.2" stroke="#ec9466" stroke-width="1.4"/>
<text transform="translate(208 364) scale(0.93 1)" class="lg">Virus</text>
<path d="M226.4 361.4H233.4" stroke="#2a9d7a" stroke-width="1.4"/>
<text transform="translate(235.2 364) scale(0.93 1)" class="lg">Microbe</text>
<circle cx="203.7" cy="374.7" r="3" fill="#d9582e"/>
<text transform="translate(208.4 377.2) scale(0.93 1)" class="lg">Virus-to-host HGT</text>
<text transform="translate(201 390.4) scale(0.93 1)" class="lg">SBS</text>
<circle cx="220" cy="387.8" r="1.9" fill="#dcd5ea"/>
<text transform="translate(222.6 390.4) scale(0.93 1)" class="lg">70</text>
<circle cx="234.3" cy="387.8" r="2.4" fill="#dcd5ea"/>
<text transform="translate(237.4 390.4) scale(0.93 1)" class="lg">80</text>
<circle cx="250" cy="387.8" r="2.9" fill="#dcd5ea"/>
<text transform="translate(253.3 390.4) scale(0.93 1)" class="lg">90</text>
<circle cx="266.7" cy="387.8" r="3.4" fill="#dcd5ea"/>
<text transform="translate(270.4 390.4) scale(0.93 1)" class="lg">100</text>
<rect x="419.8" y="25.6" width="22.8" height="151.6" fill="#f4f4f4"/>
<rect x="490.2" y="25.6" width="46.8" height="151.6" fill="#f4f4f4"/>
<rect x="584" y="25.6" width="47" height="151.6" fill="#f4f4f4"/>
<path d="M419.3 114.34C420.55 113.49 424.1 111.24 426.8 109.26C429.5 107.27 432.58 104.84 435.5 102.43C438.42 100.02 441.38 97.65 444.3 94.81C447.22 91.97 450.08 88.67 453 85.38C455.92 82.09 458.87 78.2 461.8 75.06C464.73 71.92 467.68 68.97 470.6 66.54C473.52 64.12 476.38 62.29 479.3 60.51C482.22 58.74 485.18 57.19 488.1 55.9C491.02 54.61 493.88 53.55 496.8 52.8C499.72 52.05 502.67 51.7 505.6 51.4C508.53 51.1 511.48 50.92 514.4 51C517.32 51.08 520.18 51.32 523.1 51.9C526.02 52.48 529.1 53.5 531.9 54.5C534.7 55.5 536.93 56.83 539.9 57.9C542.87 58.97 546.42 60.07 549.7 60.9C552.98 61.73 556.32 62.47 559.6 62.9C562.88 63.33 566.12 63.67 569.4 63.5C572.68 63.33 576.02 62.83 579.3 61.9C582.58 60.97 585.82 59.15 589.1 57.9C592.38 56.65 595.72 55.32 599 54.4C602.28 53.48 605.52 52.8 608.8 52.4C612.08 52 615.42 52.19 618.7 52C621.98 51.81 625.22 51.36 628.5 51.24C631.78 51.13 635.12 51.16 638.4 51.3C641.68 51.44 645.5 51.55 648.2 52.08C650.9 52.62 653.53 54.11 654.6 54.51L654.6 92.69C653.53 91.69 650.9 88.75 648.2 86.72C645.5 84.68 641.68 82.46 638.4 80.5C635.12 78.54 631.78 76.54 628.5 74.96C625.22 73.37 621.98 71.59 618.7 71C615.42 70.41 612.08 71 608.8 71.4C605.52 71.8 602.28 72.48 599 73.4C595.72 74.32 592.38 75.65 589.1 76.9C585.82 78.15 582.58 79.97 579.3 80.9C576.02 81.83 572.68 82.33 569.4 82.5C566.12 82.67 562.88 82.33 559.6 81.9C556.32 81.47 552.98 80.73 549.7 79.9C546.42 79.07 542.87 77.97 539.9 76.9C536.93 75.83 534.7 74.5 531.9 73.5C529.1 72.5 526.02 71.48 523.1 70.9C520.18 70.32 517.32 70.08 514.4 70C511.48 69.92 508.53 70.1 505.6 70.4C502.67 70.7 499.72 71.05 496.8 71.8C493.88 72.55 491.02 73.59 488.1 74.9C485.18 76.21 482.22 77.53 479.3 79.69C476.38 81.85 473.52 84.71 470.6 87.86C467.68 91 464.73 94.68 461.8 98.54C458.87 102.4 455.92 107.01 453 111.02C450.08 115.03 447.22 119.03 444.3 122.59C441.38 126.15 438.42 129.25 435.5 132.37C432.58 135.5 429.5 138.69 426.8 141.34C424.1 143.99 420.55 147.11 419.3 148.26Z" fill="#dea195" fill-opacity="0.25"/>
<path d="M419.8 79.4H665.4" stroke="#c8c8c8" stroke-width="0.7" stroke-dasharray="2 2"/>
<rect x="421.2" y="79.4" width="4.12" height="62.76" fill="#dd8a6c" fill-opacity="0.85" stroke="#c8603e" stroke-width="0.6" stroke-opacity="0.75"/>
<rect x="425.92" y="79.4" width="4.12" height="57.19" fill="#dd8a6c" fill-opacity="0.85" stroke="#c8603e" stroke-width="0.6" stroke-opacity="0.75"/>
<rect x="430.64" y="79.4" width="4.12" height="91.05" fill="#dd8a6c" fill-opacity="0.85" stroke="#c8603e" stroke-width="0.6" stroke-opacity="0.75"/>
<rect x="435.36" y="79.4" width="4.12" height="28.9" fill="#dd8a6c" fill-opacity="0.85" stroke="#c8603e" stroke-width="0.6" stroke-opacity="0.75"/>
<rect x="440.08" y="79.4" width="4.12" height="48.76" fill="#dd8a6c" fill-opacity="0.85" stroke="#c8603e" stroke-width="0.6" stroke-opacity="0.75"/>
<rect x="444.8" y="79.4" width="4.12" height="34.92" fill="#dd8a6c" fill-opacity="0.85" stroke="#c8603e" stroke-width="0.6" stroke-opacity="0.75"/>
<rect x="449.52" y="79.4" width="4.12" height="17.46" fill="#dd8a6c" fill-opacity="0.85" stroke="#c8603e" stroke-width="0.6" stroke-opacity="0.75"/>
<rect x="454.24" y="68.87" width="4.12" height="10.53" fill="#dd8a6c" fill-opacity="0.85" stroke="#c8603e" stroke-width="0.6" stroke-opacity="0.75"/>
<rect x="458.96" y="79.4" width="4.12" height="23.18" fill="#dd8a6c" fill-opacity="0.85" stroke="#c8603e" stroke-width="0.6" stroke-opacity="0.75"/>
<rect x="463.68" y="76.09" width="4.12" height="3.31" fill="#dd8a6c" fill-opacity="0.85" stroke="#c8603e" stroke-width="0.6" stroke-opacity="0.75"/>
<rect x="468.4" y="64.8" width="4.12" height="14.6" fill="#dd8a6c" fill-opacity="0.85" stroke="#c8603e" stroke-width="0.6" stroke-opacity="0.75"/>
<rect x="473.12" y="63.3" width="4.12" height="16.1" fill="#dd8a6c" fill-opacity="0.85" stroke="#c8603e" stroke-width="0.6" stroke-opacity="0.75"/>
<rect x="477.84" y="70.22" width="4.12" height="9.18" fill="#dd8a6c" fill-opacity="0.85" stroke="#c8603e" stroke-width="0.6" stroke-opacity="0.75"/>
<rect x="482.56" y="70.07" width="4.12" height="9.33" fill="#dd8a6c" fill-opacity="0.85" stroke="#c8603e" stroke-width="0.6" stroke-opacity="0.75"/>
<rect x="487.28" y="59.99" width="4.12" height="19.41" fill="#dd8a6c" fill-opacity="0.85" stroke="#c8603e" stroke-width="0.6" stroke-opacity="0.75"/>
<rect x="492" y="65.4" width="4.12" height="14" fill="#dd8a6c" fill-opacity="0.85" stroke="#c8603e" stroke-width="0.6" stroke-opacity="0.75"/>
<rect x="496.72" y="71.57" width="4.12" height="7.83" fill="#dd8a6c" fill-opacity="0.85" stroke="#c8603e" stroke-width="0.6" stroke-opacity="0.75"/>
<rect x="501.44" y="53.06" width="4.12" height="26.34" fill="#dd8a6c" fill-opacity="0.85" stroke="#c8603e" stroke-width="0.6" stroke-opacity="0.75"/>
<rect x="506.16" y="64.05" width="4.12" height="15.35" fill="#dd8a6c" fill-opacity="0.85" stroke="#c8603e" stroke-width="0.6" stroke-opacity="0.75"/>
<rect x="510.88" y="63.3" width="4.12" height="16.1" fill="#dd8a6c" fill-opacity="0.85" stroke="#c8603e" stroke-width="0.6" stroke-opacity="0.75"/>
<rect x="515.6" y="43.13" width="4.12" height="36.27" fill="#dd8a6c" fill-opacity="0.85" stroke="#c8603e" stroke-width="0.6" stroke-opacity="0.75"/>
<rect x="520.32" y="64.35" width="4.12" height="15.05" fill="#dd8a6c" fill-opacity="0.85" stroke="#c8603e" stroke-width="0.6" stroke-opacity="0.75"/>
<rect x="525.04" y="79.4" width="4.12" height="3.31" fill="#dd8a6c" fill-opacity="0.85" stroke="#c8603e" stroke-width="0.6" stroke-opacity="0.75"/>
<rect x="529.76" y="43.28" width="4.12" height="36.12" fill="#dd8a6c" fill-opacity="0.85" stroke="#c8603e" stroke-width="0.6" stroke-opacity="0.75"/>
<rect x="534.48" y="41.02" width="4.12" height="38.38" fill="#dd8a6c" fill-opacity="0.85" stroke="#c8603e" stroke-width="0.6" stroke-opacity="0.75"/>
<rect x="539.2" y="75.64" width="4.12" height="3.76" fill="#dd8a6c" fill-opacity="0.85" stroke="#c8603e" stroke-width="0.6" stroke-opacity="0.75"/>
<rect x="543.92" y="76.54" width="4.12" height="2.86" fill="#dd8a6c" fill-opacity="0.85" stroke="#c8603e" stroke-width="0.6" stroke-opacity="0.75"/>
<rect x="548.64" y="79.4" width="4.12" height="6.77" fill="#dd8a6c" fill-opacity="0.85" stroke="#c8603e" stroke-width="0.6" stroke-opacity="0.75"/>
<rect x="553.36" y="74.28" width="4.12" height="5.12" fill="#dd8a6c" fill-opacity="0.85" stroke="#c8603e" stroke-width="0.6" stroke-opacity="0.75"/>
<rect x="562.8" y="79.4" width="4.12" height="8.58" fill="#dd8a6c" fill-opacity="0.85" stroke="#c8603e" stroke-width="0.6" stroke-opacity="0.75"/>
<rect x="567.52" y="65.4" width="4.12" height="14" fill="#dd8a6c" fill-opacity="0.85" stroke="#c8603e" stroke-width="0.6" stroke-opacity="0.75"/>
<rect x="572.24" y="79.4" width="4.12" height="3.61" fill="#dd8a6c" fill-opacity="0.85" stroke="#c8603e" stroke-width="0.6" stroke-opacity="0.75"/>
<rect x="576.96" y="79.4" width="4.12" height="28.29" fill="#dd8a6c" fill-opacity="0.85" stroke="#c8603e" stroke-width="0.6" stroke-opacity="0.75"/>
<rect x="581.68" y="63.15" width="4.12" height="16.25" fill="#dd8a6c" fill-opacity="0.85" stroke="#c8603e" stroke-width="0.6" stroke-opacity="0.75"/>
<rect x="586.4" y="56.37" width="4.12" height="23.03" fill="#dd8a6c" fill-opacity="0.85" stroke="#c8603e" stroke-width="0.6" stroke-opacity="0.75"/>
<rect x="591.12" y="79.4" width="4.12" height="7.22" fill="#dd8a6c" fill-opacity="0.85" stroke="#c8603e" stroke-width="0.6" stroke-opacity="0.75"/>
<rect x="595.84" y="44.18" width="4.12" height="35.22" fill="#dd8a6c" fill-opacity="0.85" stroke="#c8603e" stroke-width="0.6" stroke-opacity="0.75"/>
<rect x="600.56" y="33.2" width="4.12" height="46.2" fill="#dd8a6c" fill-opacity="0.85" stroke="#c8603e" stroke-width="0.6" stroke-opacity="0.75"/>
<rect x="605.28" y="66.76" width="4.12" height="12.64" fill="#dd8a6c" fill-opacity="0.85" stroke="#c8603e" stroke-width="0.6" stroke-opacity="0.75"/>
<rect x="610" y="64.65" width="4.12" height="14.75" fill="#dd8a6c" fill-opacity="0.85" stroke="#c8603e" stroke-width="0.6" stroke-opacity="0.75"/>
<rect x="614.72" y="62.24" width="4.12" height="17.16" fill="#dd8a6c" fill-opacity="0.85" stroke="#c8603e" stroke-width="0.6" stroke-opacity="0.75"/>
<rect x="619.44" y="62.85" width="4.12" height="16.55" fill="#dd8a6c" fill-opacity="0.85" stroke="#c8603e" stroke-width="0.6" stroke-opacity="0.75"/>
<rect x="624.16" y="56.07" width="4.12" height="23.33" fill="#dd8a6c" fill-opacity="0.85" stroke="#c8603e" stroke-width="0.6" stroke-opacity="0.75"/>
<rect x="628.88" y="59.23" width="4.12" height="20.17" fill="#dd8a6c" fill-opacity="0.85" stroke="#c8603e" stroke-width="0.6" stroke-opacity="0.75"/>
<rect x="633.6" y="38.16" width="4.12" height="41.24" fill="#dd8a6c" fill-opacity="0.85" stroke="#c8603e" stroke-width="0.6" stroke-opacity="0.75"/>
<rect x="643.04" y="76.69" width="4.12" height="2.71" fill="#dd8a6c" fill-opacity="0.85" stroke="#c8603e" stroke-width="0.6" stroke-opacity="0.75"/>
<rect x="647.76" y="73.68" width="4.12" height="5.72" fill="#dd8a6c" fill-opacity="0.85" stroke="#c8603e" stroke-width="0.6" stroke-opacity="0.75"/>
<rect x="652.48" y="79.4" width="4.12" height="6.02" fill="#dd8a6c" fill-opacity="0.85" stroke="#c8603e" stroke-width="0.6" stroke-opacity="0.75"/>
<path d="M419.3 131.3C420.55 130.3 424.1 127.62 426.8 125.3C429.5 122.98 432.58 120.17 435.5 117.4C438.42 114.63 441.38 111.9 444.3 108.7C447.22 105.5 450.08 101.85 453 98.2C455.92 94.55 458.87 90.3 461.8 86.8C464.73 83.3 467.68 79.98 470.6 77.2C473.52 74.42 476.38 72.07 479.3 70.1C482.22 68.13 485.18 66.7 488.1 65.4C491.02 64.1 493.88 63.05 496.8 62.3C499.72 61.55 502.67 61.2 505.6 60.9C508.53 60.6 511.48 60.42 514.4 60.5C517.32 60.58 520.18 60.82 523.1 61.4C526.02 61.98 529.1 63 531.9 64C534.7 65 536.93 66.33 539.9 67.4C542.87 68.47 546.42 69.57 549.7 70.4C552.98 71.23 556.32 71.97 559.6 72.4C562.88 72.83 566.12 73.17 569.4 73C572.68 72.83 576.02 72.33 579.3 71.4C582.58 70.47 585.82 68.65 589.1 67.4C592.38 66.15 595.72 64.82 599 63.9C602.28 62.98 605.52 62.3 608.8 61.9C612.08 61.5 615.42 61.3 618.7 61.5C621.98 61.7 625.22 62.37 628.5 63.1C631.78 63.83 635.12 64.85 638.4 65.9C641.68 66.95 645.5 68.12 648.2 69.4C650.9 70.68 653.53 72.9 654.6 73.6" stroke="#d35428" stroke-width="1.8" fill="none"/>
<path d="M419.3 25.6V177.2H665.4" stroke="#666" stroke-width="1.2" fill="none"/>
<path d="M417.3 49.3H419.3" stroke="#3a3a3a" stroke-width="0.8"/>
<text x="416.9" y="53.2" class="ax" text-anchor="end">0.2</text>
<path d="M417.3 79.4H419.3" stroke="#3a3a3a" stroke-width="0.8"/>
<text x="416.9" y="83.3" class="ax" text-anchor="end">0.0</text>
<path d="M417.3 109.5H419.3" stroke="#3a3a3a" stroke-width="0.8"/>
<text x="416.9" y="113.4" class="ax" text-anchor="end">-0.2</text>
<path d="M417.3 139.6H419.3" stroke="#3a3a3a" stroke-width="0.8"/>
<text x="416.9" y="143.5" class="ax" text-anchor="end">-0.4</text>
<path d="M417.3 169.7H419.3" stroke="#3a3a3a" stroke-width="0.8"/>
<text x="416.9" y="173.6" class="ax" text-anchor="end">-0.6</text>
<path d="M419.3 177.2V179.2" stroke="#3a3a3a" stroke-width="0.8"/>
<text x="420.1" y="188.8" class="ax" text-anchor="middle">0</text>
<path d="M466.34 177.2V179.2" stroke="#3a3a3a" stroke-width="0.8"/>
<text x="468.6" y="188.8" class="ax" text-anchor="middle">20</text>
<path d="M513.38 177.2V179.2" stroke="#3a3a3a" stroke-width="0.8"/>
<text x="515.5" y="188.8" class="ax" text-anchor="middle">40</text>
<path d="M560.42 177.2V179.2" stroke="#3a3a3a" stroke-width="0.8"/>
<text x="562.6" y="188.8" class="ax" text-anchor="middle">60</text>
<path d="M607.46 177.2V179.2" stroke="#3a3a3a" stroke-width="0.8"/>
<text x="609.8" y="188.8" class="ax" text-anchor="middle">80</text>
<path d="M654.5 177.2V179.2" stroke="#3a3a3a" stroke-width="0.8"/>
<text x="658.5" y="188.8" class="ax" text-anchor="middle">100</text>
<text x="542.5" y="200" class="ax2" text-anchor="middle">Days</text>
<text x="612" y="35.8" class="pt"><tspan font-style="italic">p</tspan> = 0.004</text>
<text transform="translate(374.4 105.8) rotate(-90)" class="yl" text-anchor="middle">Log<tspan class="sub" dy="2">10</tspan><tspan dy="-2">(Enrichment ratio</tspan><tspan class="sub" dy="2" font-style="italic">read depths</tspan><tspan dy="-2"> of As-</tspan></text><text transform="translate(385.5 105.7) rotate(-90)" class="yl" style="font-size:9.5px" text-anchor="middle">oxidizing genes by virus-mediated HGTs)</text>
<rect x="419.8" y="221.2" width="23" height="151.1" fill="#f4f4f4"/>
<rect x="489.7" y="221.2" width="47.1" height="151.1" fill="#f4f4f4"/>
<rect x="584.2" y="221.2" width="46.6" height="151.1" fill="#f4f4f4"/>
<path d="M419.1 335.31C420.82 332.88 425.8 325.89 429.4 320.75C433 315.61 436.92 309.6 440.7 304.48C444.48 299.36 448.3 294.73 452.1 290.01C455.9 285.29 459.72 280.57 463.5 276.15C467.28 271.72 471.02 267.42 474.8 263.47C478.58 259.53 482.42 255.91 486.2 252.5C489.98 249.09 493.72 245.47 497.5 243C501.28 240.53 505.1 238.85 508.9 237.7C512.7 236.55 516.78 235.98 520.3 236.1C523.82 236.22 526.73 237.5 530 238.4C533.27 239.3 536.62 240 539.9 241.5C543.18 243 546.42 245.27 549.7 247.4C552.98 249.53 556.32 252.07 559.6 254.3C562.88 256.53 566.12 258.88 569.4 260.8C572.68 262.72 576.02 264.48 579.3 265.8C582.58 267.12 585.82 268.02 589.1 268.7C592.38 269.38 595.72 269.63 599 269.9C602.28 270.17 603.88 270.23 608.8 270.3C613.72 270.37 620.9 271.42 628.5 270.3C636.1 269.18 650.08 264.69 654.4 263.57L654.4 298.23C650.08 296.91 636.1 291.62 628.5 290.3C620.9 288.98 613.72 290.37 608.8 290.3C603.88 290.23 602.28 290.17 599 289.9C595.72 289.63 592.38 289.38 589.1 288.7C585.82 288.02 582.58 287.12 579.3 285.8C576.02 284.48 572.68 282.72 569.4 280.8C566.12 278.88 562.88 276.53 559.6 274.3C556.32 272.07 552.98 269.53 549.7 267.4C546.42 265.27 543.18 263 539.9 261.5C536.62 260 533.27 259.3 530 258.4C526.73 257.5 523.82 256.22 520.3 256.1C516.78 255.98 512.7 256.55 508.9 257.7C505.1 258.85 501.28 260.53 497.5 263C493.72 265.47 489.98 268.95 486.2 272.5C482.42 276.05 478.58 279.93 474.8 284.33C471.02 288.72 467.28 293.81 463.5 298.85C459.72 303.9 455.9 309.24 452.1 314.59C448.3 319.93 444.48 325.18 440.7 330.92C436.92 336.66 433 343.32 429.4 349.05C425.8 354.78 420.82 362.58 419.1 365.29Z" fill="#9fd8c0" fill-opacity="0.35"/>
<path d="M419.8 294H664.8" stroke="#c8c8c8" stroke-width="0.7" stroke-dasharray="2 2"/>
<rect x="421.2" y="294" width="4.12" height="77.28" fill="#72c2a4" fill-opacity="0.8" stroke="#3f9f7a" stroke-width="0.6" stroke-opacity="0.75"/>
<rect x="425.92" y="294" width="4.12" height="39.38" fill="#72c2a4" fill-opacity="0.8" stroke="#3f9f7a" stroke-width="0.6" stroke-opacity="0.75"/>
<rect x="430.64" y="294" width="4.12" height="61.27" fill="#72c2a4" fill-opacity="0.8" stroke="#3f9f7a" stroke-width="0.6" stroke-opacity="0.75"/>
<rect x="435.36" y="294" width="4.12" height="4.6" fill="#72c2a4" fill-opacity="0.8" stroke="#3f9f7a" stroke-width="0.6" stroke-opacity="0.75"/>
<rect x="440.08" y="294" width="4.12" height="20.61" fill="#72c2a4" fill-opacity="0.8" stroke="#3f9f7a" stroke-width="0.6" stroke-opacity="0.75"/>
<rect x="444.8" y="294" width="4.12" height="10.49" fill="#72c2a4" fill-opacity="0.8" stroke="#3f9f7a" stroke-width="0.6" stroke-opacity="0.75"/>
<rect x="449.52" y="294" width="4.12" height="1.47" fill="#72c2a4" fill-opacity="0.8" stroke="#3f9f7a" stroke-width="0.6" stroke-opacity="0.75"/>
<rect x="454.24" y="294" width="4.12" height="1.84" fill="#72c2a4" fill-opacity="0.8" stroke="#3f9f7a" stroke-width="0.6" stroke-opacity="0.75"/>
<rect x="458.96" y="294" width="4.12" height="41.58" fill="#72c2a4" fill-opacity="0.8" stroke="#3f9f7a" stroke-width="0.6" stroke-opacity="0.75"/>
<rect x="463.68" y="276.52" width="4.12" height="17.48" fill="#72c2a4" fill-opacity="0.8" stroke="#3f9f7a" stroke-width="0.6" stroke-opacity="0.75"/>
<rect x="468.4" y="283.7" width="4.12" height="10.3" fill="#72c2a4" fill-opacity="0.8" stroke="#3f9f7a" stroke-width="0.6" stroke-opacity="0.75"/>
<rect x="473.12" y="264.19" width="4.12" height="29.81" fill="#72c2a4" fill-opacity="0.8" stroke="#3f9f7a" stroke-width="0.6" stroke-opacity="0.75"/>
<rect x="477.84" y="294" width="4.12" height="0.92" fill="#72c2a4" fill-opacity="0.8" stroke="#3f9f7a" stroke-width="0.6" stroke-opacity="0.75"/>
<rect x="482.56" y="254.26" width="4.12" height="39.74" fill="#72c2a4" fill-opacity="0.8" stroke="#3f9f7a" stroke-width="0.6" stroke-opacity="0.75"/>
<rect x="487.28" y="265.85" width="4.12" height="28.15" fill="#72c2a4" fill-opacity="0.8" stroke="#3f9f7a" stroke-width="0.6" stroke-opacity="0.75"/>
<rect x="492" y="262.54" width="4.12" height="31.46" fill="#72c2a4" fill-opacity="0.8" stroke="#3f9f7a" stroke-width="0.6" stroke-opacity="0.75"/>
<rect x="496.72" y="239.54" width="4.12" height="54.46" fill="#72c2a4" fill-opacity="0.8" stroke="#3f9f7a" stroke-width="0.6" stroke-opacity="0.75"/>
<rect x="501.44" y="221.87" width="4.12" height="72.13" fill="#72c2a4" fill-opacity="0.8" stroke="#3f9f7a" stroke-width="0.6" stroke-opacity="0.75"/>
<rect x="506.16" y="237.51" width="4.12" height="56.49" fill="#72c2a4" fill-opacity="0.8" stroke="#3f9f7a" stroke-width="0.6" stroke-opacity="0.75"/>
<rect x="510.88" y="268.61" width="4.12" height="25.39" fill="#72c2a4" fill-opacity="0.8" stroke="#3f9f7a" stroke-width="0.6" stroke-opacity="0.75"/>
<rect x="515.6" y="251.13" width="4.12" height="42.87" fill="#72c2a4" fill-opacity="0.8" stroke="#3f9f7a" stroke-width="0.6" stroke-opacity="0.75"/>
<rect x="520.32" y="242.48" width="4.12" height="51.52" fill="#72c2a4" fill-opacity="0.8" stroke="#3f9f7a" stroke-width="0.6" stroke-opacity="0.75"/>
<rect x="525.04" y="235.12" width="4.12" height="58.88" fill="#72c2a4" fill-opacity="0.8" stroke="#3f9f7a" stroke-width="0.6" stroke-opacity="0.75"/>
<rect x="529.76" y="237.14" width="4.12" height="56.86" fill="#72c2a4" fill-opacity="0.8" stroke="#3f9f7a" stroke-width="0.6" stroke-opacity="0.75"/>
<rect x="534.48" y="239.54" width="4.12" height="54.46" fill="#72c2a4" fill-opacity="0.8" stroke="#3f9f7a" stroke-width="0.6" stroke-opacity="0.75"/>
<rect x="539.2" y="251.68" width="4.12" height="42.32" fill="#72c2a4" fill-opacity="0.8" stroke="#3f9f7a" stroke-width="0.6" stroke-opacity="0.75"/>
<rect x="543.92" y="276.15" width="4.12" height="17.85" fill="#72c2a4" fill-opacity="0.8" stroke="#3f9f7a" stroke-width="0.6" stroke-opacity="0.75"/>
<rect x="548.64" y="254.44" width="4.12" height="39.56" fill="#72c2a4" fill-opacity="0.8" stroke="#3f9f7a" stroke-width="0.6" stroke-opacity="0.75"/>
<rect x="553.36" y="265.48" width="4.12" height="28.52" fill="#72c2a4" fill-opacity="0.8" stroke="#3f9f7a" stroke-width="0.6" stroke-opacity="0.75"/>
<rect x="558.08" y="266.95" width="4.12" height="27.05" fill="#72c2a4" fill-opacity="0.8" stroke="#3f9f7a" stroke-width="0.6" stroke-opacity="0.75"/>
<rect x="562.8" y="260.88" width="4.12" height="33.12" fill="#72c2a4" fill-opacity="0.8" stroke="#3f9f7a" stroke-width="0.6" stroke-opacity="0.75"/>
<rect x="567.52" y="266.58" width="4.12" height="27.42" fill="#72c2a4" fill-opacity="0.8" stroke="#3f9f7a" stroke-width="0.6" stroke-opacity="0.75"/>
<rect x="572.24" y="286.46" width="4.12" height="7.54" fill="#72c2a4" fill-opacity="0.8" stroke="#3f9f7a" stroke-width="0.6" stroke-opacity="0.75"/>
<rect x="576.96" y="294" width="4.12" height="4.97" fill="#72c2a4" fill-opacity="0.8" stroke="#3f9f7a" stroke-width="0.6" stroke-opacity="0.75"/>
<rect x="586.4" y="273.76" width="4.12" height="20.24" fill="#72c2a4" fill-opacity="0.8" stroke="#3f9f7a" stroke-width="0.6" stroke-opacity="0.75"/>
<rect x="591.12" y="283.88" width="4.12" height="10.12" fill="#72c2a4" fill-opacity="0.8" stroke="#3f9f7a" stroke-width="0.6" stroke-opacity="0.75"/>
<rect x="595.84" y="264.56" width="4.12" height="29.44" fill="#72c2a4" fill-opacity="0.8" stroke="#3f9f7a" stroke-width="0.6" stroke-opacity="0.75"/>
<rect x="600.56" y="250.76" width="4.12" height="43.24" fill="#72c2a4" fill-opacity="0.8" stroke="#3f9f7a" stroke-width="0.6" stroke-opacity="0.75"/>
<rect x="605.28" y="293.08" width="4.12" height="0.92" fill="#72c2a4" fill-opacity="0.8" stroke="#3f9f7a" stroke-width="0.6" stroke-opacity="0.75"/>
<rect x="610" y="292.71" width="4.12" height="1.29" fill="#72c2a4" fill-opacity="0.8" stroke="#3f9f7a" stroke-width="0.6" stroke-opacity="0.75"/>
<rect x="614.72" y="294" width="4.12" height="1.84" fill="#72c2a4" fill-opacity="0.8" stroke="#3f9f7a" stroke-width="0.6" stroke-opacity="0.75"/>
<rect x="619.44" y="294" width="4.12" height="1.84" fill="#72c2a4" fill-opacity="0.8" stroke="#3f9f7a" stroke-width="0.6" stroke-opacity="0.75"/>
<rect x="624.16" y="268.24" width="4.12" height="25.76" fill="#72c2a4" fill-opacity="0.8" stroke="#3f9f7a" stroke-width="0.6" stroke-opacity="0.75"/>
<rect x="633.6" y="242.48" width="4.12" height="51.52" fill="#72c2a4" fill-opacity="0.8" stroke="#3f9f7a" stroke-width="0.6" stroke-opacity="0.75"/>
<rect x="638.32" y="294" width="4.12" height="6.62" fill="#72c2a4" fill-opacity="0.8" stroke="#3f9f7a" stroke-width="0.6" stroke-opacity="0.75"/>
<rect x="643.04" y="273.76" width="4.12" height="20.24" fill="#72c2a4" fill-opacity="0.8" stroke="#3f9f7a" stroke-width="0.6" stroke-opacity="0.75"/>
<rect x="647.76" y="260.88" width="4.12" height="33.12" fill="#72c2a4" fill-opacity="0.8" stroke="#3f9f7a" stroke-width="0.6" stroke-opacity="0.75"/>
<rect x="652.48" y="294" width="4.12" height="12.88" fill="#72c2a4" fill-opacity="0.8" stroke="#3f9f7a" stroke-width="0.6" stroke-opacity="0.75"/>
<path d="M419.1 350.3C420.82 347.73 425.8 340.33 429.4 334.9C433 329.47 436.92 323.13 440.7 317.7C444.48 312.27 448.3 307.33 452.1 302.3C455.9 297.27 459.72 292.23 463.5 287.5C467.28 282.77 471.02 278.07 474.8 273.9C478.58 269.73 482.42 265.98 486.2 262.5C489.98 259.02 493.72 255.47 497.5 253C501.28 250.53 505.1 248.85 508.9 247.7C512.7 246.55 516.78 245.98 520.3 246.1C523.82 246.22 526.73 247.5 530 248.4C533.27 249.3 536.62 250 539.9 251.5C543.18 253 546.42 255.27 549.7 257.4C552.98 259.53 556.32 262.07 559.6 264.3C562.88 266.53 566.12 268.88 569.4 270.8C572.68 272.72 576.02 274.48 579.3 275.8C582.58 277.12 585.82 278.02 589.1 278.7C592.38 279.38 595.72 279.63 599 279.9C602.28 280.17 603.88 280.23 608.8 280.3C613.72 280.37 620.9 280.2 628.5 280.3C636.1 280.4 650.08 280.8 654.4 280.9" stroke="#17a074" stroke-width="1.8" fill="none"/>
<path d="M419.3 221.2V372.3H664.8" stroke="#666" stroke-width="1.2" fill="none"/>
<path d="M417.3 257.2H419.3" stroke="#3a3a3a" stroke-width="0.8"/>
<text x="416.9" y="261.1" class="ax" text-anchor="end">0.2</text>
<path d="M417.3 294H419.3" stroke="#3a3a3a" stroke-width="0.8"/>
<text x="416.9" y="297.9" class="ax" text-anchor="end">0.0</text>
<path d="M417.3 330.8H419.3" stroke="#3a3a3a" stroke-width="0.8"/>
<text x="416.9" y="334.7" class="ax" text-anchor="end">-0.2</text>
<path d="M417.3 367.6H419.3" stroke="#3a3a3a" stroke-width="0.8"/>
<text x="416.9" y="371.5" class="ax" text-anchor="end">-0.4</text>
<path d="M419.3 372.3V374.3" stroke="#3a3a3a" stroke-width="0.8"/>
<text x="420.1" y="383.9" class="ax" text-anchor="middle">0</text>
<path d="M466.34 372.3V374.3" stroke="#3a3a3a" stroke-width="0.8"/>
<text x="468.6" y="383.9" class="ax" text-anchor="middle">20</text>
<path d="M513.38 372.3V374.3" stroke="#3a3a3a" stroke-width="0.8"/>
<text x="515.5" y="383.9" class="ax" text-anchor="middle">40</text>
<path d="M560.42 372.3V374.3" stroke="#3a3a3a" stroke-width="0.8"/>
<text x="562.6" y="383.9" class="ax" text-anchor="middle">60</text>
<path d="M607.46 372.3V374.3" stroke="#3a3a3a" stroke-width="0.8"/>
<text x="609.8" y="383.9" class="ax" text-anchor="middle">80</text>
<path d="M654.5 372.3V374.3" stroke="#3a3a3a" stroke-width="0.8"/>
<text x="658.5" y="383.9" class="ax" text-anchor="middle">100</text>
<text x="541.4" y="393.6" class="ax2" text-anchor="middle">Days</text>
<text x="610" y="232.4" class="pt"><tspan font-style="italic">p</tspan> = 0.0007</text>
<text transform="translate(375.4 303.6) rotate(-90)" class="yl" text-anchor="middle">Log<tspan class="sub" dy="2">10</tspan><tspan dy="-2">(Enrichment ratio</tspan><tspan class="sub" dy="2" font-style="italic">copies</tspan><tspan dy="-2"> of</tspan></text><text transform="translate(387.4 303.5) rotate(-90)" class="yl" text-anchor="middle">recipient microbes)</text>
<rect x="43.1" y="410.8" width="87.5" height="12.1" fill="#fdf4e4"/>
<text x="89.1" y="419.3" class="vt" fill="#b3272b" text-anchor="middle">Koribacter</text>
<path d="M66.8 437C66.98 438.08 67.43 441.18 67.9 443.5C68.37 445.82 69.02 448.43 69.6 450.9C70.18 453.37 70.78 455.83 71.4 458.3C72.02 460.77 72.88 463.23 73.3 465.7C73.72 468.17 73.8 470.62 73.9 473.1C74 475.58 73.98 478.12 73.9 480.6C73.82 483.08 73.65 485.53 73.4 488C73.15 490.47 72.82 492.93 72.4 495.4C71.98 497.87 71.37 500.33 70.9 502.8C70.43 505.27 69.97 507.73 69.6 510.2C69.23 512.67 69.02 515.13 68.7 517.6C68.38 520.07 68.02 522.83 67.7 525C67.38 527.17 66.95 529.67 66.8 530.6C66.65 529.67 66.22 527.17 65.9 525C65.58 522.83 65.22 520.07 64.9 517.6C64.58 515.13 64.37 512.67 64 510.2C63.63 507.73 63.17 505.27 62.7 502.8C62.23 500.33 61.62 497.87 61.2 495.4C60.78 492.93 60.45 490.47 60.2 488C59.95 485.53 59.78 483.08 59.7 480.6C59.62 478.12 59.6 475.58 59.7 473.1C59.8 470.62 59.88 468.17 60.3 465.7C60.72 463.23 61.58 460.77 62.2 458.3C62.82 455.83 63.42 453.37 64 450.9C64.58 448.43 65.23 445.82 65.7 443.5C66.17 441.18 66.62 438.08 66.8 437Z" fill="#7fccb1" fill-opacity="0.97"/>
<path d="M106.6 429.6C106.75 430.38 106.88 432.75 107.5 434.3C108.12 435.85 109.07 437.37 110.3 438.9C111.53 440.43 113.6 441.97 114.9 443.5C116.2 445.03 117.32 446.55 118.1 448.1C118.88 449.65 119.42 451.25 119.6 452.8C119.78 454.35 119.52 455.87 119.2 457.4C118.88 458.93 118.63 460.45 117.7 462C116.77 463.55 114.9 465.15 113.6 466.7C112.3 468.25 110.75 469.6 109.9 471.3C109.05 473 108.87 474.73 108.5 476.9C108.13 479.07 108.02 481.68 107.7 484.3C107.38 486.92 106.78 491.22 106.6 492.6C106.42 491.22 105.82 486.92 105.5 484.3C105.18 481.68 105.07 479.07 104.7 476.9C104.33 474.73 104.15 473 103.3 471.3C102.45 469.6 100.9 468.25 99.6 466.7C98.3 465.15 96.43 463.55 95.5 462C94.57 460.45 94.32 458.93 94 457.4C93.68 455.87 93.42 454.35 93.6 452.8C93.78 451.25 94.32 449.65 95.1 448.1C95.88 446.55 97 445.03 98.3 443.5C99.6 441.97 101.67 440.43 102.9 438.9C104.13 437.37 105.08 435.85 105.7 434.3C106.32 432.75 106.45 430.38 106.6 429.6Z" fill="#fca97a" fill-opacity="0.95"/>
<path d="M44.1 473.4H130.6" stroke="#cfcfcf" stroke-width="0.6" stroke-opacity="0.8" stroke-dasharray="2 2"/>
<path d="M66.8 448V510" stroke="#159a6e" stroke-width="0.9" stroke-opacity="0.35" stroke-dasharray="1.2 1.2"/>
<path d="M66.8 462V497.2" stroke="#159a6e" stroke-width="1" stroke-opacity="0.85"/>
<circle cx="66.8" cy="481.5" r="2.2" fill="#159a6e"/>
<path d="M106.6 438V482" stroke="#e8501e" stroke-width="0.9" stroke-opacity="0.35" stroke-dasharray="1.2 1.2"/>
<path d="M106.6 442.6V464.8" stroke="#e8501e" stroke-width="1" stroke-opacity="0.85"/>
<circle cx="106.6" cy="455.2" r="2.2" fill="#e8501e"/>
<path d="M70.5 431.4H105.7" stroke="#444" stroke-width="0.7" fill="none"/>
<text x="87.6" y="428.6" class="pv" text-anchor="middle"><tspan font-style="italic">p</tspan> &lt; 0.0001</text>
<path d="M43.1 422.9V544H130.6" stroke="#555" stroke-width="0.9" fill="none"/>
<path d="M41.5 423.6H43.1" stroke="#3a3a3a" stroke-width="0.6"/>
<text transform="translate(40.4 426.7) scale(0.92 1)" class="vy" text-anchor="end">1.0</text>
<path d="M41.5 448.5H43.1" stroke="#3a3a3a" stroke-width="0.6"/>
<text transform="translate(40.4 451.6) scale(0.92 1)" class="vy" text-anchor="end">0.5</text>
<path d="M41.5 473.4H43.1" stroke="#3a3a3a" stroke-width="0.6"/>
<text transform="translate(40.4 476.5) scale(0.92 1)" class="vy" text-anchor="end">0.0</text>
<path d="M41.5 498.3H43.1" stroke="#3a3a3a" stroke-width="0.6"/>
<text transform="translate(40.4 501.4) scale(0.92 1)" class="vy" text-anchor="end">-0.5</text>
<path d="M41.5 523.2H43.1" stroke="#3a3a3a" stroke-width="0.6"/>
<text transform="translate(40.4 526.3) scale(0.92 1)" class="vy" text-anchor="end">-1.0</text>
<text transform="translate(72.7 552.9) scale(0.93 1)" class="vx" text-anchor="middle">Pre-HGT</text>
<text transform="translate(113.4 552.9) scale(0.93 1)" class="vx" text-anchor="middle">Post-HGT</text>
<path d="M66.8 544V545.6M106.6 544V545.6" stroke="#555" stroke-width="0.6"/>
<rect x="152.9" y="410.8" width="87.5" height="12.1" fill="#fdf4e4"/>
<text x="198.3" y="419.3" class="vt" fill="#b0583c" text-anchor="middle">Kaistella_34dR</text>
<path d="M176.4 436.1C176.55 437.33 176.68 441.03 177.3 443.5C177.92 445.97 179.02 448.43 180.1 450.9C181.18 453.37 182.87 455.83 183.8 458.3C184.73 460.77 185.38 463.53 185.7 465.7C186.02 467.87 185.95 469.43 185.7 471.3C185.45 473.17 184.88 474.73 184.2 476.9C183.52 479.07 182.28 481.83 181.6 484.3C180.92 486.77 180.47 489.23 180.1 491.7C179.73 494.17 179.65 496.63 179.4 499.1C179.15 501.57 178.85 504.03 178.6 506.5C178.35 508.97 178.15 511.43 177.9 513.9C177.65 516.37 177.35 518.22 177.1 521.3C176.85 524.38 176.52 530.55 176.4 532.4C176.28 530.55 175.95 524.38 175.7 521.3C175.45 518.22 175.15 516.37 174.9 513.9C174.65 511.43 174.45 508.97 174.2 506.5C173.95 504.03 173.65 501.57 173.4 499.1C173.15 496.63 173.07 494.17 172.7 491.7C172.33 489.23 171.88 486.77 171.2 484.3C170.52 481.83 169.28 479.07 168.6 476.9C167.92 474.73 167.35 473.17 167.1 471.3C166.85 469.43 166.78 467.87 167.1 465.7C167.42 463.53 168.07 460.77 169 458.3C169.93 455.83 171.62 453.37 172.7 450.9C173.78 448.43 174.88 445.97 175.5 443.5C176.12 441.03 176.25 437.33 176.4 436.1Z" fill="#7fccb1" fill-opacity="0.97"/>
<path d="M216.1 433.3C216.25 434.38 216.23 437.78 217 439.8C217.77 441.82 219.25 443.55 220.7 445.4C222.15 447.25 224.37 449.05 225.7 450.9C227.03 452.75 228.08 454.65 228.7 456.5C229.32 458.35 229.58 460.15 229.4 462C229.22 463.85 228.43 465.75 227.6 467.6C226.77 469.45 225.55 471.25 224.4 473.1C223.25 474.95 221.83 476.83 220.7 478.7C219.57 480.57 218.37 482.6 217.6 484.3C216.83 486 216.35 488.13 216.1 488.9C215.85 488.13 215.37 486 214.6 484.3C213.83 482.6 212.63 480.57 211.5 478.7C210.37 476.83 208.95 474.95 207.8 473.1C206.65 471.25 205.43 469.45 204.6 467.6C203.77 465.75 202.98 463.85 202.8 462C202.62 460.15 202.88 458.35 203.5 456.5C204.12 454.65 205.17 452.75 206.5 450.9C207.83 449.05 210.05 447.25 211.5 445.4C212.95 443.55 214.43 441.82 215.2 439.8C215.97 437.78 215.95 434.38 216.1 433.3Z" fill="#e8b39d" fill-opacity="0.95"/>
<path d="M153.9 469.5H240.4" stroke="#cfcfcf" stroke-width="0.6" stroke-opacity="0.8" stroke-dasharray="2 2"/>
<path d="M176.4 455V512" stroke="#159a6e" stroke-width="0.9" stroke-opacity="0.35" stroke-dasharray="1.2 1.2"/>
<path d="M176.4 462V496.3" stroke="#159a6e" stroke-width="1" stroke-opacity="0.85"/>
<circle cx="176.4" cy="479.3" r="2.2" fill="#159a6e"/>
<path d="M216.1 446V480" stroke="#c86a48" stroke-width="0.9" stroke-opacity="0.35" stroke-dasharray="1.2 1.2"/>
<path d="M216.1 451.9V475" stroke="#c86a48" stroke-width="1" stroke-opacity="0.85"/>
<circle cx="216.1" cy="461.7" r="2.2" fill="#c86a48"/>
<path d="M180.3 431.4H215.5" stroke="#444" stroke-width="0.7" fill="none"/>
<text x="197.4" y="428.6" class="pv" text-anchor="middle"><tspan font-style="italic">p</tspan> = 0.0007</text>
<path d="M152.9 422.9V544H240.4" stroke="#555" stroke-width="0.9" fill="none"/>
<path d="M151.3 430.9H152.9" stroke="#3a3a3a" stroke-width="0.6"/>
<text transform="translate(150.2 434) scale(0.92 1)" class="vy" text-anchor="end">0.5</text>
<path d="M151.3 469.5H152.9" stroke="#3a3a3a" stroke-width="0.6"/>
<text transform="translate(150.2 472.6) scale(0.92 1)" class="vy" text-anchor="end">0.0</text>
<path d="M151.3 508.1H152.9" stroke="#3a3a3a" stroke-width="0.6"/>
<text transform="translate(150.2 511.2) scale(0.92 1)" class="vy" text-anchor="end">-0.5</text>
<text transform="translate(182.5 552.9) scale(0.93 1)" class="vx" text-anchor="middle">Pre-HGT</text>
<text transform="translate(223.2 552.9) scale(0.93 1)" class="vx" text-anchor="middle">Post-HGT</text>
<path d="M176.4 544V545.6M216.1 544V545.6" stroke="#555" stroke-width="0.6"/>
<rect x="262.9" y="410.8" width="87.5" height="12.1" fill="#fdf4e4"/>
<text x="303.3" y="419.3" class="vt" fill="#c9525c" text-anchor="middle">Limnoglobus</text>
<path d="M286.1 441.2C286.23 442.53 286.5 446.52 286.9 449.2C287.3 451.88 287.8 454.6 288.5 457.3C289.2 460 290.32 462.7 291.1 465.4C291.88 468.1 292.75 470.8 293.2 473.5C293.65 476.2 293.8 478.92 293.8 481.6C293.8 484.28 293.47 486.92 293.2 489.6C292.93 492.28 292.65 495 292.2 497.7C291.75 500.4 291.02 503.1 290.5 505.8C289.98 508.5 289.57 511.2 289.1 513.9C288.63 516.6 288.1 519.32 287.7 522C287.3 524.68 286.97 527.32 286.7 530C286.43 532.68 286.2 536.75 286.1 538.1C286 536.75 285.77 532.68 285.5 530C285.23 527.32 284.9 524.68 284.5 522C284.1 519.32 283.57 516.6 283.1 513.9C282.63 511.2 282.22 508.5 281.7 505.8C281.18 503.1 280.45 500.4 280 497.7C279.55 495 279.27 492.28 279 489.6C278.73 486.92 278.4 484.28 278.4 481.6C278.4 478.92 278.55 476.2 279 473.5C279.45 470.8 280.32 468.1 281.1 465.4C281.88 462.7 283 460 283.7 457.3C284.4 454.6 284.9 451.88 285.3 449.2C285.7 446.52 285.97 442.53 286.1 441.2Z" fill="#7fccb1" fill-opacity="0.97"/>
<path d="M325.7 434.1C325.83 435.28 326 439.02 326.5 441.2C327 443.38 327.32 445.18 328.7 447.2C330.08 449.22 333.12 451.45 334.8 453.3C336.48 455.15 338.3 456.62 338.8 458.3C339.3 459.98 338.47 461.72 337.8 463.4C337.13 465.08 335.73 466.72 334.8 468.4C333.87 470.08 332.98 471.65 332.2 473.5C331.42 475.35 330.85 477.48 330.1 479.5C329.35 481.52 328.43 483.23 327.7 485.6C326.97 487.97 326.03 492.35 325.7 493.7C325.37 492.35 324.43 487.97 323.7 485.6C322.97 483.23 322.05 481.52 321.3 479.5C320.55 477.48 319.98 475.35 319.2 473.5C318.42 471.65 317.53 470.08 316.6 468.4C315.67 466.72 314.27 465.08 313.6 463.4C312.93 461.72 312.1 459.98 312.6 458.3C313.1 456.62 314.92 455.15 316.6 453.3C318.28 451.45 321.32 449.22 322.7 447.2C324.08 445.18 324.4 443.38 324.9 441.2C325.4 439.02 325.57 435.28 325.7 434.1Z" fill="#f2b0b4" fill-opacity="0.95"/>
<path d="M263.9 471.4H350.4" stroke="#cfcfcf" stroke-width="0.6" stroke-opacity="0.8" stroke-dasharray="2 2"/>
<path d="M286.1 465V512" stroke="#159a6e" stroke-width="0.9" stroke-opacity="0.35" stroke-dasharray="1.2 1.2"/>
<path d="M286.1 473.5V503.8" stroke="#159a6e" stroke-width="1" stroke-opacity="0.85"/>
<circle cx="286.1" cy="488.6" r="2.2" fill="#159a6e"/>
<path d="M325.7 448V484" stroke="#e07078" stroke-width="0.9" stroke-opacity="0.35" stroke-dasharray="1.2 1.2"/>
<path d="M325.7 451.3V477.5" stroke="#e07078" stroke-width="1" stroke-opacity="0.85"/>
<circle cx="325.7" cy="463.4" r="2.2" fill="#e07078"/>
<path d="M290.3 431.4H325.5" stroke="#444" stroke-width="0.7" fill="none"/>
<text x="307.4" y="428.6" class="pv" text-anchor="middle"><tspan font-style="italic">p</tspan> = 0.0003</text>
<path d="M262.9 422.9V544H350.4" stroke="#555" stroke-width="0.9" fill="none"/>
<path d="M261.3 429.95H262.9" stroke="#3a3a3a" stroke-width="0.6"/>
<text transform="translate(260.2 433.05) scale(0.92 1)" class="vy" text-anchor="end">0.5</text>
<path d="M261.3 471.4H262.9" stroke="#3a3a3a" stroke-width="0.6"/>
<text transform="translate(260.2 474.5) scale(0.92 1)" class="vy" text-anchor="end">0.0</text>
<path d="M261.3 512.85H262.9" stroke="#3a3a3a" stroke-width="0.6"/>
<text transform="translate(260.2 515.95) scale(0.92 1)" class="vy" text-anchor="end">-0.5</text>
<text transform="translate(292.5 552.9) scale(0.93 1)" class="vx" text-anchor="middle">Pre-HGT</text>
<text transform="translate(333.2 552.9) scale(0.93 1)" class="vx" text-anchor="middle">Post-HGT</text>
<path d="M286.1 544V545.6M325.7 544V545.6" stroke="#555" stroke-width="0.6"/>
<rect x="372.1" y="410.8" width="87.5" height="12.1" fill="#fdf4e4"/>
<text x="417.5" y="419.3" class="vt" fill="#eba21f" text-anchor="middle">Kaistella_44dR</text>
<path d="M396.1 433.9C396.27 435.18 396.45 439.02 397.1 441.6C397.75 444.18 399.03 446.82 400 449.4C400.97 451.98 402.1 454.53 402.9 457.1C403.7 459.67 404.42 462.22 404.8 464.8C405.18 467.38 405.37 470.02 405.2 472.6C405.03 475.18 404.52 477.72 403.8 480.3C403.08 482.88 401.6 485.52 400.9 488.1C400.2 490.68 399.75 493.22 399.6 495.8C399.45 498.38 400 501.02 400 503.6C400 506.18 399.87 508.72 399.6 511.3C399.33 513.88 398.78 516.52 398.4 519.1C398.02 521.68 397.62 524.22 397.3 526.8C396.98 529.38 396.7 532.67 396.5 534.6C396.3 536.53 396.17 537.77 396.1 538.4C396.03 537.77 395.9 536.53 395.7 534.6C395.5 532.67 395.22 529.38 394.9 526.8C394.58 524.22 394.18 521.68 393.8 519.1C393.42 516.52 392.87 513.88 392.6 511.3C392.33 508.72 392.2 506.18 392.2 503.6C392.2 501.02 392.75 498.38 392.6 495.8C392.45 493.22 392 490.68 391.3 488.1C390.6 485.52 389.12 482.88 388.4 480.3C387.68 477.72 387.17 475.18 387 472.6C386.83 470.02 387.02 467.38 387.4 464.8C387.78 462.22 388.5 459.67 389.3 457.1C390.1 454.53 391.23 451.98 392.2 449.4C393.17 446.82 394.45 444.18 395.1 441.6C395.75 439.02 395.93 435.18 396.1 433.9Z" fill="#7fccb1" fill-opacity="0.97"/>
<path d="M435.6 439.4C435.75 440.13 436.13 442.53 436.5 443.8C436.87 445.07 437.03 445.73 437.8 447C438.57 448.27 439.92 449.75 441.1 451.4C442.28 453.05 443.72 455.25 444.9 456.9C446.08 458.55 447.42 459.85 448.2 461.3C448.98 462.75 449.55 464.15 449.6 465.6C449.65 467.05 448.87 468.53 448.5 470C448.13 471.47 447.92 472.93 447.4 474.4C446.88 475.87 446.23 477.35 445.4 478.8C444.57 480.25 443.48 481.65 442.4 483.1C441.32 484.55 439.85 486.22 438.9 487.5C437.95 488.78 437.25 489.52 436.7 490.8C436.15 492.08 435.78 494.47 435.6 495.2C435.42 494.47 435.05 492.08 434.5 490.8C433.95 489.52 433.25 488.78 432.3 487.5C431.35 486.22 429.88 484.55 428.8 483.1C427.72 481.65 426.63 480.25 425.8 478.8C424.97 477.35 424.32 475.87 423.8 474.4C423.28 472.93 423.07 471.47 422.7 470C422.33 468.53 421.55 467.05 421.6 465.6C421.65 464.15 422.22 462.75 423 461.3C423.78 459.85 425.12 458.55 426.3 456.9C427.48 455.25 428.92 453.05 430.1 451.4C431.28 449.75 432.63 448.27 433.4 447C434.17 445.73 434.33 445.07 434.7 443.8C435.07 442.53 435.45 440.13 435.6 439.4Z" fill="#fdd88a" fill-opacity="0.95"/>
<path d="M373.1 472.7H459.6" stroke="#cfcfcf" stroke-width="0.6" stroke-opacity="0.8" stroke-dasharray="2 2"/>
<path d="M396.1 452V515" stroke="#159a6e" stroke-width="0.9" stroke-opacity="0.35" stroke-dasharray="1.2 1.2"/>
<path d="M396.1 459V496.8" stroke="#159a6e" stroke-width="1" stroke-opacity="0.85"/>
<circle cx="396.1" cy="479.4" r="2.2" fill="#159a6e"/>
<path d="M435.6 451.4V484.2" stroke="#f5ad1a" stroke-width="0.9" stroke-opacity="0.35" stroke-dasharray="1.2 1.2"/>
<path d="M435.6 459V476.6" stroke="#f5ad1a" stroke-width="1" stroke-opacity="0.85"/>
<circle cx="435.6" cy="467.6" r="2.2" fill="#f5ad1a"/>
<path d="M399.5 431.4H434.7" stroke="#444" stroke-width="0.7" fill="none"/>
<text x="416.6" y="428.6" class="pv" text-anchor="middle"><tspan font-style="italic">p</tspan> = 0.01</text>
<path d="M372.1 422.9V544H459.6" stroke="#555" stroke-width="0.9" fill="none"/>
<path d="M370.5 433.3H372.1" stroke="#3a3a3a" stroke-width="0.6"/>
<text transform="translate(369.4 436.4) scale(0.92 1)" class="vy" text-anchor="end">0.5</text>
<path d="M370.5 472.7H372.1" stroke="#3a3a3a" stroke-width="0.6"/>
<text transform="translate(369.4 475.8) scale(0.92 1)" class="vy" text-anchor="end">0.0</text>
<path d="M370.5 512.1H372.1" stroke="#3a3a3a" stroke-width="0.6"/>
<text transform="translate(369.4 515.2) scale(0.92 1)" class="vy" text-anchor="end">-0.5</text>
<text transform="translate(401.7 552.9) scale(0.93 1)" class="vx" text-anchor="middle">Pre-HGT</text>
<text transform="translate(442.4 552.9) scale(0.93 1)" class="vx" text-anchor="middle">Post-HGT</text>
<path d="M396.1 544V545.6M435.6 544V545.6" stroke="#555" stroke-width="0.6"/>
<rect x="482.1" y="410.8" width="87.5" height="12.1" fill="#fdf4e4"/>
<text x="527.5" y="419.3" class="vt" fill="#f28c2e" text-anchor="middle">Bacillus</text>
<path d="M505.7 432.1C505.87 433.62 506.2 438.35 506.7 441.2C507.2 444.05 507.85 446.52 508.7 449.2C509.55 451.88 510.88 454.6 511.8 457.3C512.72 460 513.53 462.7 514.2 465.4C514.87 468.1 515.7 471.15 515.8 473.5C515.9 475.85 515.47 477.48 514.8 479.5C514.13 481.52 512.72 483.23 511.8 485.6C510.88 487.97 509.92 491 509.3 493.7C508.68 496.4 508.37 499.12 508.1 501.8C507.83 504.48 507.77 507.12 507.7 509.8C507.63 512.48 507.83 515.2 507.7 517.9C507.57 520.6 507.23 523.13 506.9 526C506.57 528.87 505.9 533.58 505.7 535.1C505.5 533.58 504.83 528.87 504.5 526C504.17 523.13 503.83 520.6 503.7 517.9C503.57 515.2 503.77 512.48 503.7 509.8C503.63 507.12 503.57 504.48 503.3 501.8C503.03 499.12 502.72 496.4 502.1 493.7C501.48 491 500.52 487.97 499.6 485.6C498.68 483.23 497.27 481.52 496.6 479.5C495.93 477.48 495.5 475.85 495.6 473.5C495.7 471.15 496.53 468.1 497.2 465.4C497.87 462.7 498.68 460 499.6 457.3C500.52 454.6 501.85 451.88 502.7 449.2C503.55 446.52 504.2 444.05 504.7 441.2C505.2 438.35 505.53 433.62 505.7 432.1Z" fill="#7fccb1" fill-opacity="0.97"/>
<path d="M545.3 442.2C545.57 443.37 545.55 447.02 546.9 449.2C548.25 451.38 551.65 453.27 553.4 455.3C555.15 457.33 556.47 459.38 557.4 461.4C558.33 463.42 559 465.38 559 467.4C559 469.42 558 471.48 557.4 473.5C556.8 475.52 556.23 477.48 555.4 479.5C554.57 481.52 553.58 483.57 552.4 485.6C551.22 487.63 549.48 489.52 548.3 491.7C547.12 493.88 545.8 497.53 545.3 498.7C544.8 497.53 543.48 493.88 542.3 491.7C541.12 489.52 539.38 487.63 538.2 485.6C537.02 483.57 536.03 481.52 535.2 479.5C534.37 477.48 533.8 475.52 533.2 473.5C532.6 471.48 531.6 469.42 531.6 467.4C531.6 465.38 532.27 463.42 533.2 461.4C534.13 459.38 535.45 457.33 537.2 455.3C538.95 453.27 542.35 451.38 543.7 449.2C545.05 447.02 545.03 443.37 545.3 442.2Z" fill="#f7bd80" fill-opacity="0.95"/>
<path d="M483.1 477.5H569.6" stroke="#cfcfcf" stroke-width="0.6" stroke-opacity="0.8" stroke-dasharray="2 2"/>
<path d="M505.7 445V520" stroke="#159a6e" stroke-width="0.9" stroke-opacity="0.35" stroke-dasharray="1.2 1.2"/>
<path d="M505.7 459.3V501.8" stroke="#159a6e" stroke-width="1" stroke-opacity="0.85"/>
<circle cx="505.7" cy="481.6" r="2.2" fill="#159a6e"/>
<path d="M545.3 450V490" stroke="#f08418" stroke-width="0.9" stroke-opacity="0.35" stroke-dasharray="1.2 1.2"/>
<path d="M545.3 455.3V486.6" stroke="#f08418" stroke-width="1" stroke-opacity="0.85"/>
<circle cx="545.3" cy="470" r="2.2" fill="#f08418"/>
<path d="M509.5 431.4H544.7" stroke="#444" stroke-width="0.7" fill="none"/>
<text x="526.6" y="428.6" class="pv" text-anchor="middle"><tspan font-style="italic">p</tspan> = 0.02</text>
<path d="M482.1 422.9V544H569.6" stroke="#555" stroke-width="0.9" fill="none"/>
<path d="M480.5 444.5H482.1" stroke="#3a3a3a" stroke-width="0.6"/>
<text transform="translate(479.4 447.6) scale(0.92 1)" class="vy" text-anchor="end">0.4</text>
<path d="M480.5 477.5H482.1" stroke="#3a3a3a" stroke-width="0.6"/>
<text transform="translate(479.4 480.6) scale(0.92 1)" class="vy" text-anchor="end">0.0</text>
<path d="M480.5 510.5H482.1" stroke="#3a3a3a" stroke-width="0.6"/>
<text transform="translate(479.4 513.6) scale(0.92 1)" class="vy" text-anchor="end">-0.4</text>
<path d="M480.5 543.5H482.1" stroke="#3a3a3a" stroke-width="0.6"/>
<text transform="translate(479.4 546.6) scale(0.92 1)" class="vy" text-anchor="end">-0.8</text>
<text transform="translate(511.7 552.9) scale(0.93 1)" class="vx" text-anchor="middle">Pre-HGT</text>
<text transform="translate(552.4 552.9) scale(0.93 1)" class="vx" text-anchor="middle">Post-HGT</text>
<path d="M505.7 544V545.6M545.3 544V545.6" stroke="#555" stroke-width="0.6"/>
<rect x="591.9" y="410.8" width="87.5" height="12.1" fill="#fdf4e4"/>
<text x="632.3" y="419.3" class="vt" fill="#ef6a5c" text-anchor="middle">Acidobacterium</text>
<path d="M615.5 429C615.63 430.35 615.8 434.4 616.3 437.1C616.8 439.8 617.68 442.5 618.5 445.2C619.32 447.9 620.52 450.6 621.2 453.3C621.88 456 622.27 458.72 622.6 461.4C622.93 464.08 623.1 466.72 623.2 469.4C623.3 472.08 623.3 474.8 623.2 477.5C623.1 480.2 623.03 482.9 622.6 485.6C622.17 488.3 621.18 491 620.6 493.7C620.02 496.4 619.55 499.12 619.1 501.8C618.65 504.48 618.23 507.12 617.9 509.8C617.57 512.48 617.37 515.2 617.1 517.9C616.83 520.6 616.57 522.8 616.3 526C616.03 529.2 615.63 535.25 615.5 537.1C615.37 535.25 614.97 529.2 614.7 526C614.43 522.8 614.17 520.6 613.9 517.9C613.63 515.2 613.43 512.48 613.1 509.8C612.77 507.12 612.35 504.48 611.9 501.8C611.45 499.12 610.98 496.4 610.4 493.7C609.82 491 608.83 488.3 608.4 485.6C607.97 482.9 607.9 480.2 607.8 477.5C607.7 474.8 607.7 472.08 607.8 469.4C607.9 466.72 608.07 464.08 608.4 461.4C608.73 458.72 609.12 456 609.8 453.3C610.48 450.6 611.68 447.9 612.5 445.2C613.32 442.5 614.2 439.8 614.7 437.1C615.2 434.4 615.37 430.35 615.5 429Z" fill="#7fccb1" fill-opacity="0.97"/>
<path d="M655.1 444.2C655.43 445.38 655.58 449.12 657.1 451.3C658.62 453.48 662.25 455.28 664.2 457.3C666.15 459.32 668.3 461.38 668.8 463.4C669.3 465.42 667.53 467.38 667.2 469.4C666.87 471.42 667.13 473.47 666.8 475.5C666.47 477.53 666.13 479.58 665.2 481.6C664.27 483.62 662.55 485.75 661.2 487.6C659.85 489.45 658.12 491.18 657.1 492.7C656.08 494.22 655.43 496.03 655.1 496.7C654.77 496.03 654.12 494.22 653.1 492.7C652.08 491.18 650.35 489.45 649 487.6C647.65 485.75 645.93 483.62 645 481.6C644.07 479.58 643.73 477.53 643.4 475.5C643.07 473.47 643.33 471.42 643 469.4C642.67 467.38 640.9 465.42 641.4 463.4C641.9 461.38 644.05 459.32 646 457.3C647.95 455.28 651.58 453.48 653.1 451.3C654.62 449.12 654.77 445.38 655.1 444.2Z" fill="#f8c6b8" fill-opacity="0.95"/>
<path d="M592.9 476.7H679.4" stroke="#cfcfcf" stroke-width="0.6" stroke-opacity="0.8" stroke-dasharray="2 2"/>
<path d="M615.5 450V512" stroke="#159a6e" stroke-width="0.9" stroke-opacity="0.35" stroke-dasharray="1.2 1.2"/>
<path d="M615.5 459.3V496.7" stroke="#159a6e" stroke-width="1" stroke-opacity="0.85"/>
<circle cx="615.5" cy="479.1" r="2.2" fill="#159a6e"/>
<path d="M655.1 456V488" stroke="#f08a74" stroke-width="0.9" stroke-opacity="0.35" stroke-dasharray="1.2 1.2"/>
<path d="M655.1 460.4V485.6" stroke="#f08a74" stroke-width="1" stroke-opacity="0.85"/>
<circle cx="655.1" cy="469.8" r="2.2" fill="#f08a74"/>
<path d="M619.3 431.4H654.5" stroke="#444" stroke-width="0.7" fill="none"/>
<text x="636.4" y="428.6" class="pv" text-anchor="middle"><tspan font-style="italic">p</tspan> = 0.04</text>
<path d="M591.9 422.9V544H679.4" stroke="#555" stroke-width="0.9" fill="none"/>
<path d="M590.3 444.9H591.9" stroke="#3a3a3a" stroke-width="0.6"/>
<text transform="translate(589.2 448) scale(0.92 1)" class="vy" text-anchor="end">0.4</text>
<path d="M590.3 476.7H591.9" stroke="#3a3a3a" stroke-width="0.6"/>
<text transform="translate(589.2 479.8) scale(0.92 1)" class="vy" text-anchor="end">0.0</text>
<path d="M590.3 508.5H591.9" stroke="#3a3a3a" stroke-width="0.6"/>
<text transform="translate(589.2 511.6) scale(0.92 1)" class="vy" text-anchor="end">-0.4</text>
<path d="M590.3 540.3H591.9" stroke="#3a3a3a" stroke-width="0.6"/>
<text transform="translate(589.2 543.4) scale(0.92 1)" class="vy" text-anchor="end">-0.8</text>
<text transform="translate(621.5 552.9) scale(0.93 1)" class="vx" text-anchor="middle">Pre-HGT</text>
<text transform="translate(662.2 552.9) scale(0.93 1)" class="vx" text-anchor="middle">Post-HGT</text>
<path d="M615.5 544V545.6M655.1 544V545.6" stroke="#555" stroke-width="0.6"/>
<text transform="translate(9.3 484) rotate(-90) scale(0.93 1)" class="yl" style="font-size:10.3px" text-anchor="middle">Log<tspan class="sub" dy="2">10</tspan><tspan dy="-2">(Enrichment ratio</tspan><tspan class="sub" dy="2" font-style="italic">copies</tspan><tspan dy="-2"> of</tspan></text>
<text transform="translate(20.3 484) rotate(-90) scale(0.93 1)" class="yl" style="font-size:10.3px" text-anchor="middle">recipient microbes)</text>
<text x="18.7" y="569.2" class="gl" fill="#b3272b">Koribacter</text>
<text x="48.6" y="562.6" class="gt" text-anchor="middle">2000</text><path d="M48.6 563.2V564.8" stroke="#999" stroke-width="0.4"/><text x="67.3" y="562.6" class="gt" text-anchor="middle">3000</text><path d="M67.3 563.2V564.8" stroke="#999" stroke-width="0.4"/><text x="85.7" y="562.6" class="gt" text-anchor="middle">4000</text><path d="M85.7 563.2V564.8" stroke="#999" stroke-width="0.4"/><text x="104.4" y="562.6" class="gt" text-anchor="middle">5000</text><path d="M104.4 563.2V564.8" stroke="#999" stroke-width="0.4"/><text x="123.1" y="562.6" class="gt" text-anchor="middle">6000</text><path d="M123.1 563.2V564.8" stroke="#999" stroke-width="0.4"/>
<rect x="42" y="569.8" width="93" height="2.4" fill="#cde9dc"/>
<path d="M42.8 565.6H53.3L53.3 567.5L53.3 569.4H42.8Z" fill="#5fbf98"/><text x="48.05" y="568.4" class="gn" fill="#111" text-anchor="middle">arr</text>
<path d="M54.2 565.6H70.7L72.9 567.5L70.7 569.4H54.2Z" fill="#e2562b"/><text x="63.55" y="568.4" class="gn" fill="#111" text-anchor="middle">arsH</text>
<path d="M78.3 565.6H97.1L99.3 567.5L97.1 569.4H78.3Z" fill="#5fbf98"/>
<path d="M102.8 565.6H121.2L123.4 567.5L121.2 569.4H102.8Z" fill="#5fbf98"/>
<path d="M125 572.4H135L135 574.3L135 576.2H125Z" fill="#4fb88c"/><text x="130" y="575.2" class="gn" fill="#111" text-anchor="middle">qacD</text>
<text x="124.5" y="585.7" class="gl" fill="#b0583c">Kaistella_34dR</text>
<text x="158.4" y="578.4" class="gt" text-anchor="middle">62000</text><path d="M158.4 579V580.6" stroke="#999" stroke-width="0.4"/><text x="177.1" y="578.4" class="gt" text-anchor="middle">63000</text><path d="M177.1 579V580.6" stroke="#999" stroke-width="0.4"/><text x="196.3" y="578.4" class="gt" text-anchor="middle">64000</text><path d="M196.3 579V580.6" stroke="#999" stroke-width="0.4"/><text x="215" y="578.4" class="gt" text-anchor="middle">65000</text><path d="M215 579V580.6" stroke="#999" stroke-width="0.4"/><text x="236.7" y="578.4" class="gt" text-anchor="middle">75876</text><path d="M236.7 579V580.6" stroke="#999" stroke-width="0.4"/>
<rect x="154.9" y="586" width="86.5" height="1.8" fill="#cde9dc"/>
<path d="M160.3 581.3H170.2L172.4 583.3L170.2 585.3H160.3Z" fill="#5fbf98"/><text x="166.35" y="584.3" class="gn" fill="#111" text-anchor="middle">vfgC</text>
<path d="M172.4 581.3H181.5L183.7 583.3L181.5 585.3H172.4Z" fill="#5fbf98"/><text x="178.05" y="584.3" class="gn" fill="#111" text-anchor="middle">hisA</text>
<path d="M183.7 581.3H193.6L195.8 583.3L193.6 585.3H183.7Z" fill="#5fbf98"/><text x="189.75" y="584.3" class="gn" fill="#111" text-anchor="middle">ubiD</text>
<path d="M196.3 581.3H198.04L199.2 583.3L198.04 585.3H196.3Z" fill="#5fbf98"/>
<path d="M230.4 581.3H239.2L241.4 583.3L239.2 585.3H230.4Z" fill="#f08a3c"/><text x="235.9" y="584.3" class="gn" fill="#111" text-anchor="middle">arsS</text>
<path d="M156.78 588.3H159.6V592.1H156.78L154.9 590.2Z" fill="#5fbf98"/>
<path d="M203.8 588.3H214.5V592.1H203.8L201.6 590.2Z" fill="#5fbf98"/><text x="208.05" y="591.1" class="gn" fill="#111" text-anchor="middle">fabG</text>
<path d="M216.7 588.3H226V592.1H216.7L214.5 590.2Z" fill="#5fbf98"/><text x="220.25" y="591.1" class="gn" fill="#111" text-anchor="middle">crtB</text>
<text x="232.9" y="568.6" class="gl" fill="#cf5c60">Limnoglobus</text>
<text x="260.9" y="562.8" class="gt" text-anchor="middle">1</text><path d="M260.9 563.4V565" stroke="#999" stroke-width="0.4"/><text x="273.3" y="562.8" class="gt" text-anchor="middle">1000</text><path d="M273.3 563.4V565" stroke="#999" stroke-width="0.4"/><text x="284.7" y="562.8" class="gt" text-anchor="middle">2000</text><path d="M284.7 563.4V565" stroke="#999" stroke-width="0.4"/><text x="295.5" y="562.8" class="gt" text-anchor="middle">3000</text><path d="M295.5 563.4V565" stroke="#999" stroke-width="0.4"/><text x="306.4" y="562.8" class="gt" text-anchor="middle">4000</text><path d="M306.4 563.4V565" stroke="#999" stroke-width="0.4"/><text x="318.1" y="562.8" class="gt" text-anchor="middle">5000</text><path d="M318.1 563.4V565" stroke="#999" stroke-width="0.4"/><text x="329.1" y="562.8" class="gt" text-anchor="middle">6000</text><path d="M329.1 563.4V565" stroke="#999" stroke-width="0.4"/><text x="340.3" y="562.8" class="gt" text-anchor="middle">7000</text><path d="M340.3 563.4V565" stroke="#999" stroke-width="0.4"/><text x="351.3" y="562.8" class="gt" text-anchor="middle">8000</text><path d="M351.3 563.4V565" stroke="#999" stroke-width="0.4"/>
<rect x="260.9" y="569.8" width="94.6" height="2" fill="#cde9dc"/>
<path d="M261.6 565.4H268L270.2 567.3L268 569.2H261.6Z" fill="#5fbf98"/>
<path d="M322.8 565.4H336.4L336.4 567.3L336.4 569.2H322.8Z" fill="#5fbf98"/><text x="329.6" y="568.2" class="gn" fill="#111" text-anchor="middle">soxB</text>
<path d="M336.4 565.4H350.5L352.7 567.3L350.5 569.2H336.4Z" fill="#5fbf98"/><text x="344.55" y="568.2" class="gn" fill="#111" text-anchor="middle">soxC</text>
<path d="M277.1 572.4H298.3V576.2H277.1L274.9 574.3Z" fill="#5fbf98"/><text x="286.6" y="575.2" class="gn" fill="#111" text-anchor="middle">malA</text>
<path d="M299.4 572.4H313.5L313.5 574.3L313.5 576.2H299.4Z" fill="#ee7f86"/><text x="306.45" y="575.2" class="gn" fill="#111" text-anchor="middle">arsR</text>
<text x="338" y="585.7" class="gl" fill="#f0a52a">Kaistella_44dR</text>
<text x="378.2" y="578.4" class="gt" text-anchor="middle">43000</text><path d="M378.2 579V580.6" stroke="#999" stroke-width="0.4"/><text x="391.1" y="578.4" class="gt" text-anchor="middle">44000</text><path d="M391.1 579V580.6" stroke="#999" stroke-width="0.4"/><text x="403.7" y="578.4" class="gt" text-anchor="middle">45000</text><path d="M403.7 579V580.6" stroke="#999" stroke-width="0.4"/><text x="416.1" y="578.4" class="gt" text-anchor="middle">46000</text><path d="M416.1 579V580.6" stroke="#999" stroke-width="0.4"/><text x="429.4" y="578.4" class="gt" text-anchor="middle">47000</text><path d="M429.4 579V580.6" stroke="#999" stroke-width="0.4"/><text x="442.5" y="578.4" class="gt" text-anchor="middle">48000</text><path d="M442.5 579V580.6" stroke="#999" stroke-width="0.4"/><text x="455.8" y="578.4" class="gt" text-anchor="middle">49000</text><path d="M455.8 579V580.6" stroke="#999" stroke-width="0.4"/>
<rect x="367" y="586.3" width="99.3" height="1.2" fill="#cde9dc"/>
<rect x="367" y="588.3" width="99.3" height="1" fill="#cde9dc"/>
<path d="M369.8 581.3H388.5L388.5 583.3L388.5 585.3H369.8Z" fill="#5fbf98"/><text x="379.15" y="584.3" class="gn" fill="#111" text-anchor="middle">napA</text>
<path d="M389.2 581.3H399.8L402 583.3L399.8 585.3H389.2Z" fill="#5fbf98"/><text x="395.6" y="584.3" class="gn" fill="#111" text-anchor="middle">hisA</text>
<path d="M403.2 581.3H415L417.2 583.3L415 585.3H403.2Z" fill="#5fbf98"/><text x="410.2" y="584.3" class="gn" fill="#111" text-anchor="middle">CDG</text>
<path d="M418.4 581.3H421.16L423 583.3L421.16 585.3H418.4Z" fill="#5fbf98"/>
<path d="M430 589.6H444.1V593.6H430L427.8 591.6Z" fill="#f2a818"/><text x="435.95" y="592.6" class="gn" fill="#111" text-anchor="middle">arsS</text>
<path d="M446 589.6H461L461 591.6L461 593.6H446Z" fill="#5fbf98"/><text x="453.5" y="592.6" class="gn" fill="#111" text-anchor="middle">cusA</text>
<text x="465.1" y="568.4" class="gl" fill="#f28c2e">Bacillus</text>
<text x="482.7" y="564.2" class="gt" text-anchor="middle">47000</text><path d="M482.7 564.8V566.4" stroke="#999" stroke-width="0.4"/><text x="497.9" y="564.2" class="gt" text-anchor="middle">48000</text><path d="M497.9 564.8V566.4" stroke="#999" stroke-width="0.4"/><text x="513" y="564.2" class="gt" text-anchor="middle">49000</text><path d="M513 564.8V566.4" stroke="#999" stroke-width="0.4"/><text x="529.7" y="564.2" class="gt" text-anchor="middle">50000</text><path d="M529.7 564.8V566.4" stroke="#999" stroke-width="0.4"/><text x="546" y="564.2" class="gt" text-anchor="middle">51000</text><path d="M546 564.8V566.4" stroke="#999" stroke-width="0.4"/><text x="562.4" y="564.2" class="gt" text-anchor="middle">52000</text><path d="M562.4 564.8V566.4" stroke="#999" stroke-width="0.4"/>
<rect x="474.5" y="570.2" width="100.7" height="2" fill="#cde9dc"/>
<path d="M476.8 572.6H489.7L489.7 574.5L489.7 576.4H476.8Z" fill="#5fbf98"/><text x="483.25" y="575.4" class="gn" fill="#111" text-anchor="middle">malE</text>
<path d="M489.7 572.6H507.3L509.5 574.5L507.3 576.4H489.7Z" fill="#5fbf98"/>
<path d="M509.5 572.6H515.5L517.7 574.5L515.5 576.4H509.5Z" fill="#5fbf98"/>
<path d="M525 572.6H531L533.2 574.5L531 576.4H525Z" fill="#5fbf98"/>
<path d="M534.3 572.6H543.8L546 574.5L543.8 576.4H534.3Z" fill="#f08a3c"/><text x="540.15" y="575.4" class="gn" fill="#111" text-anchor="middle">arsS</text>
<path d="M546 572.6H574.5L574.5 574.5L574.5 576.4H546Z" fill="#5fbf98"/><text x="560.25" y="575.4" class="gn" fill="#111" text-anchor="middle">cusA</text>
<text x="566.6" y="585.7" class="gl" fill="#ef6a5c">Acidobacterium</text>
<text x="594.6" y="578.4" class="gt" text-anchor="middle">50000</text><path d="M594.6 579V580.6" stroke="#999" stroke-width="0.4"/><text x="611.4" y="578.4" class="gt" text-anchor="middle">51000</text><path d="M611.4 579V580.6" stroke="#999" stroke-width="0.4"/><text x="629" y="578.4" class="gt" text-anchor="middle">52000</text><path d="M629 579V580.6" stroke="#999" stroke-width="0.4"/><text x="646" y="578.4" class="gt" text-anchor="middle">53000</text><path d="M646 579V580.6" stroke="#999" stroke-width="0.4"/><text x="662.9" y="578.4" class="gt" text-anchor="middle">54000</text><path d="M662.9 579V580.6" stroke="#999" stroke-width="0.4"/><text x="680.4" y="578.4" class="gt" text-anchor="middle">55000</text><path d="M680.4 579V580.6" stroke="#999" stroke-width="0.4"/>
<rect x="590" y="586" width="95" height="1.8" fill="#cde9dc"/>
<path d="M619.6 581.3H631.3L631.3 583.3L631.3 585.3H619.6Z" fill="#f39a84"/><text x="625.45" y="584.3" class="gn" fill="#111" text-anchor="middle">arsS</text>
<path d="M631.3 581.3H642L644.2 583.3L642 585.3H631.3Z" fill="#5fbf98"/><text x="637.75" y="584.3" class="gn" fill="#111" text-anchor="middle">cusD</text>
<path d="M644.5 581.3H646.12L647.2 583.3L646.12 585.3H644.5Z" fill="#5fbf98"/>
<path d="M648.8 581.3H672.8L675 583.3L672.8 585.3H648.8Z" fill="#5fbf98"/><text x="661.9" y="584.3" class="gn" fill="#111" text-anchor="middle">cusA</text>
<path d="M675.5 581.3H682.8L685 583.3L682.8 585.3H675.5Z" fill="#5fbf98"/><text x="680.25" y="584.3" class="gn" fill="#111" text-anchor="middle">cu</text>
<path d="M593.8 588.3H602.1V592.1H593.8L591.6 590.2Z" fill="#5fbf98"/><text x="596.85" y="591.1" class="gn" fill="#111" text-anchor="middle">cusF</text>
<path d="M602.1 588.3H612.6L612.6 590.2L612.6 592.1H602.1Z" fill="#5fbf98"/><text x="607.35" y="591.1" class="gn" fill="#111" text-anchor="middle">hisS</text>
<text transform="translate(0 27.6) scale(0.9 1)" class="pl" style="font-size:22.4px">a</text>
<text x="352.5" y="30.4" class="pl">b</text>
<g transform="translate(356.9 202.2)"><path d="M8.1 2.3C7.5 0.8 6.2 0 4.7 0C1.9 0 0 2.4 0 5.6C0 8.8 2 10.9 4.9 10.9C6.5 10.9 7.7 10.1 8.5 8.6L8.1 8.2C7.4 9.1 6.6 9.5 5.7 9.5C3.9 9.5 2.8 7.8 2.8 5.2C2.8 2.6 3.7 0.8 4.9 0.8C5.5 0.8 5.8 1.2 5.6 2Z" fill="#000"/><circle cx="6.55" cy="3.05" r="1.75" fill="#000"/></g>
<text x="-1" y="414.4" class="pl" style="font-size:22px">d</text>
</svg>
</body></html>
